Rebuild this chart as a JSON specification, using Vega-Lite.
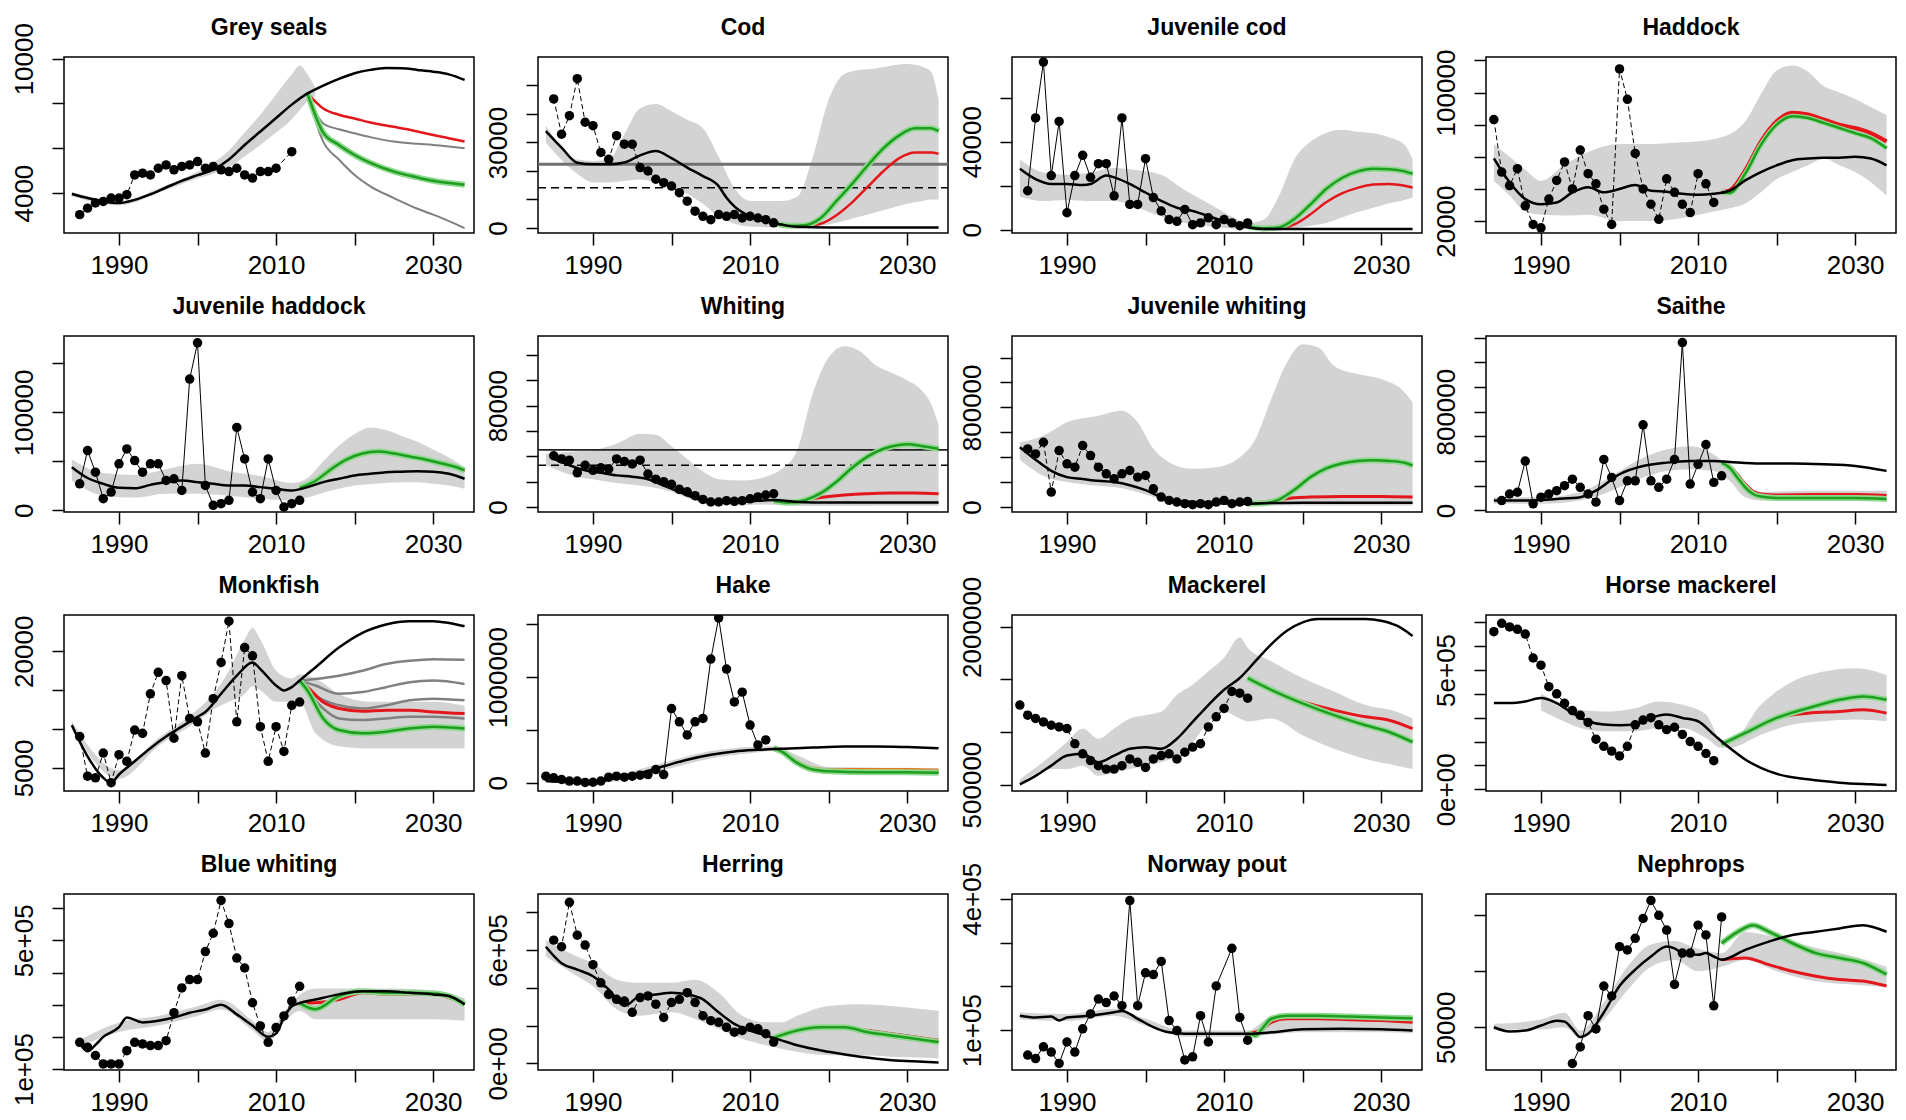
{
"$schema":"https://vega.github.io/schema/vega-lite/v6.json",
"background":"white",
"padding":{"left":10,"top":16,"right":2,"bottom":2},
"config":{
 "view":{"stroke":"black","strokeWidth":1.5},
 "axis":{"domain":false,"grid":false,"tickColor":"black","tickSize":12,"tickWidth":1.5,"labelFont":"Liberation Sans","labelFontSize":26,"labelColor":"black","labelOverlap":false,"labelFlush":false,"labelBound":false},
 "axisX":{"labelPadding":7},
 "axisY":{"labelAngle":-90,"labelAlign":"center","labelBaseline":"alphabetic","labelPadding":20},
 "title":{"font":"Liberation Sans","fontSize":23,"fontWeight":"bold","color":"black","anchor":"middle","offset":17,"baseline":"alphabetic"}
},
"data":{"values":[
{"p":"GS","k":"o","t":1985,"v":3040},{"p":"GS","k":"o","t":1986,"v":3330},{"p":"GS","k":"o","t":1987,"v":3560},{"p":"GS","k":"o","t":1988,"v":3630},{"p":"GS","k":"o","t":1989,"v":3780},{"p":"GS","k":"o","t":1990,"v":3780},{"p":"GS","k":"o","t":1991,"v":3930},{"p":"GS","k":"o","t":1992,"v":4810},{"p":"GS","k":"o","t":1993,"v":4890},{"p":"GS","k":"o","t":1994,"v":4810},{"p":"GS","k":"o","t":1995,"v":5110},{"p":"GS","k":"o","t":1996,"v":5260},{"p":"GS","k":"o","t":1997,"v":5040},{"p":"GS","k":"o","t":1998,"v":5190},{"p":"GS","k":"o","t":1999,"v":5260},{"p":"GS","k":"o","t":2000,"v":5410},{"p":"GS","k":"o","t":2001,"v":5110},{"p":"GS","k":"o","t":2002,"v":5190},{"p":"GS","k":"o","t":2003,"v":5040},{"p":"GS","k":"o","t":2004,"v":4960},{"p":"GS","k":"o","t":2005,"v":5110},{"p":"GS","k":"o","t":2006,"v":4810},{"p":"GS","k":"o","t":2007,"v":4670},{"p":"GS","k":"o","t":2008,"v":4960},{"p":"GS","k":"o","t":2009,"v":4960},{"p":"GS","k":"o","t":2010,"v":5110},{"p":"GS","k":"o","t":2012,"v":5850},
{"p":"GS","k":"m","t":1984,"v":3960},{"p":"GS","k":"m","t":1986,"v":3780},{"p":"GS","k":"m","t":1988,"v":3630},{"p":"GS","k":"m","t":1990,"v":3560},{"p":"GS","k":"m","t":1992,"v":3700},{"p":"GS","k":"m","t":1994,"v":3950},{"p":"GS","k":"m","t":1996,"v":4250},{"p":"GS","k":"m","t":1998,"v":4550},{"p":"GS","k":"m","t":2000,"v":4800},{"p":"GS","k":"m","t":2002,"v":5050},{"p":"GS","k":"m","t":2004,"v":5500},{"p":"GS","k":"m","t":2006,"v":6150},{"p":"GS","k":"m","t":2008,"v":6750},{"p":"GS","k":"m","t":2010,"v":7350},{"p":"GS","k":"m","t":2012,"v":7950},{"p":"GS","k":"m","t":2014,"v":8450},{"p":"GS","k":"m","t":2016,"v":8800},{"p":"GS","k":"m","t":2018,"v":9100},{"p":"GS","k":"m","t":2020,"v":9350},{"p":"GS","k":"m","t":2022,"v":9500},{"p":"GS","k":"m","t":2024,"v":9580},{"p":"GS","k":"m","t":2026,"v":9570},{"p":"GS","k":"m","t":2028,"v":9500},{"p":"GS","k":"m","t":2030,"v":9420},{"p":"GS","k":"m","t":2032,"v":9300},{"p":"GS","k":"m","t":2034,"v":9050},
{"p":"GS","k":"b","t":1984,"v":3860,"v2":4060},{"p":"GS","k":"b","t":1990,"v":3460,"v2":3660},{"p":"GS","k":"b","t":1996,"v":4150,"v2":4350},{"p":"GS","k":"b","t":2000,"v":4650,"v2":4950},{"p":"GS","k":"b","t":2002,"v":4850,"v2":5350},{"p":"GS","k":"b","t":2004,"v":5150,"v2":5900},{"p":"GS","k":"b","t":2006,"v":5650,"v2":6700},{"p":"GS","k":"b","t":2008,"v":6150,"v2":7500},{"p":"GS","k":"b","t":2010,"v":6700,"v2":8400},{"p":"GS","k":"b","t":2012,"v":7300,"v2":9300},{"p":"GS","k":"b","t":2013,"v":7700,"v2":9700},{"p":"GS","k":"b","t":2014,"v":8100,"v2":9300},{"p":"GS","k":"b","t":2015,"v":8300,"v2":8700},
{"p":"GS","k":"r","t":2014,"v":8450},{"p":"GS","k":"r","t":2016,"v":7780},{"p":"GS","k":"r","t":2018,"v":7500},{"p":"GS","k":"r","t":2020,"v":7330},{"p":"GS","k":"r","t":2022,"v":7150},{"p":"GS","k":"r","t":2025,"v":6960},{"p":"GS","k":"r","t":2028,"v":6750},{"p":"GS","k":"r","t":2030,"v":6590},{"p":"GS","k":"r","t":2032,"v":6450},{"p":"GS","k":"r","t":2034,"v":6300},
{"p":"GS","k":"q","s":1,"t":2014,"v":8450},{"p":"GS","k":"q","s":1,"t":2016,"v":7110},{"p":"GS","k":"q","s":1,"t":2018,"v":6850},{"p":"GS","k":"q","s":1,"t":2020,"v":6670},{"p":"GS","k":"q","s":1,"t":2022,"v":6500},{"p":"GS","k":"q","s":1,"t":2025,"v":6300},{"p":"GS","k":"q","s":1,"t":2028,"v":6200},{"p":"GS","k":"q","s":1,"t":2030,"v":6150},{"p":"GS","k":"q","s":1,"t":2032,"v":6080},{"p":"GS","k":"q","s":1,"t":2034,"v":6000},
{"p":"GS","k":"q","s":2,"t":2014,"v":8450},{"p":"GS","k":"q","s":2,"t":2016,"v":6300},{"p":"GS","k":"q","s":2,"t":2018,"v":5500},{"p":"GS","k":"q","s":2,"t":2020,"v":4810},{"p":"GS","k":"q","s":2,"t":2022,"v":4300},{"p":"GS","k":"q","s":2,"t":2025,"v":3780},{"p":"GS","k":"q","s":2,"t":2028,"v":3300},{"p":"GS","k":"q","s":2,"t":2030,"v":3040},{"p":"GS","k":"q","s":2,"t":2032,"v":2750},{"p":"GS","k":"q","s":2,"t":2034,"v":2440},
{"p":"GS","k":"g","t":2014,"v":8450},{"p":"GS","k":"g","t":2016,"v":6700},{"p":"GS","k":"g","t":2018,"v":6150},{"p":"GS","k":"g","t":2020,"v":5700},{"p":"GS","k":"g","t":2022,"v":5350},{"p":"GS","k":"g","t":2025,"v":4960},{"p":"GS","k":"g","t":2028,"v":4700},{"p":"GS","k":"g","t":2030,"v":4550},{"p":"GS","k":"g","t":2032,"v":4450},{"p":"GS","k":"g","t":2034,"v":4370},

{"p":"CO","k":"o","t":1985,"v":45300},{"p":"CO","k":"o","t":1986,"v":32900},{"p":"CO","k":"o","t":1987,"v":39400},{"p":"CO","k":"o","t":1988,"v":52400},{"p":"CO","k":"o","t":1989,"v":37100},{"p":"CO","k":"o","t":1990,"v":35900},{"p":"CO","k":"o","t":1991,"v":26500},{"p":"CO","k":"o","t":1992,"v":24100},{"p":"CO","k":"o","t":1993,"v":32400},{"p":"CO","k":"o","t":1994,"v":29400},{"p":"CO","k":"o","t":1995,"v":29400},{"p":"CO","k":"o","t":1996,"v":21200},{"p":"CO","k":"o","t":1997,"v":20000},{"p":"CO","k":"o","t":1998,"v":17100},{"p":"CO","k":"o","t":1999,"v":15900},{"p":"CO","k":"o","t":2000,"v":14700},{"p":"CO","k":"o","t":2001,"v":12400},{"p":"CO","k":"o","t":2002,"v":9400},{"p":"CO","k":"o","t":2003,"v":5900},{"p":"CO","k":"o","t":2004,"v":4100},{"p":"CO","k":"o","t":2005,"v":2900},{"p":"CO","k":"o","t":2006,"v":4700},{"p":"CO","k":"o","t":2007,"v":4100},{"p":"CO","k":"o","t":2008,"v":4700},{"p":"CO","k":"o","t":2009,"v":3500},{"p":"CO","k":"o","t":2010,"v":4100},{"p":"CO","k":"o","t":2011,"v":3500},{"p":"CO","k":"o","t":2012,"v":2900},{"p":"CO","k":"o","t":2013,"v":1800},
{"p":"CO","k":"m","t":1984,"v":34000},{"p":"CO","k":"m","t":1986,"v":28200},{"p":"CO","k":"m","t":1988,"v":22900},{"p":"CO","k":"m","t":1990,"v":22350},{"p":"CO","k":"m","t":1992,"v":22350},{"p":"CO","k":"m","t":1994,"v":23000},{"p":"CO","k":"m","t":1996,"v":25500},{"p":"CO","k":"m","t":1998,"v":27000},{"p":"CO","k":"m","t":2000,"v":24500},{"p":"CO","k":"m","t":2002,"v":21200},{"p":"CO","k":"m","t":2004,"v":18200},{"p":"CO","k":"m","t":2006,"v":14700},{"p":"CO","k":"m","t":2007,"v":10600},{"p":"CO","k":"m","t":2008,"v":7600},{"p":"CO","k":"m","t":2010,"v":4100},{"p":"CO","k":"m","t":2012,"v":2350},{"p":"CO","k":"m","t":2014,"v":1200},{"p":"CO","k":"m","t":2016,"v":400},{"p":"CO","k":"m","t":2020,"v":200},{"p":"CO","k":"m","t":2034,"v":200},
{"p":"CO","k":"b","t":1984,"v":30000,"v2":36000},{"p":"CO","k":"b","t":1988,"v":19000,"v2":24000},{"p":"CO","k":"b","t":1990,"v":16000,"v2":23500},{"p":"CO","k":"b","t":1992,"v":16000,"v2":24000},{"p":"CO","k":"b","t":1994,"v":16500,"v2":33000},{"p":"CO","k":"b","t":1996,"v":17000,"v2":42000},{"p":"CO","k":"b","t":1998,"v":16000,"v2":43500},{"p":"CO","k":"b","t":2000,"v":14500,"v2":41000},{"p":"CO","k":"b","t":2002,"v":12000,"v2":38000},{"p":"CO","k":"b","t":2004,"v":8500,"v2":35000},{"p":"CO","k":"b","t":2006,"v":4000,"v2":25000},{"p":"CO","k":"b","t":2008,"v":1500,"v2":14000},{"p":"CO","k":"b","t":2010,"v":500,"v2":9500},{"p":"CO","k":"b","t":2012,"v":300,"v2":9500},{"p":"CO","k":"b","t":2014,"v":300,"v2":9500},{"p":"CO","k":"b","t":2016,"v":400,"v2":11000},{"p":"CO","k":"b","t":2018,"v":600,"v2":25000},{"p":"CO","k":"b","t":2020,"v":1200,"v2":45000},{"p":"CO","k":"b","t":2022,"v":2500,"v2":54000},{"p":"CO","k":"b","t":2024,"v":4000,"v2":55500},{"p":"CO","k":"b","t":2026,"v":5500,"v2":56000},{"p":"CO","k":"b","t":2028,"v":7000,"v2":57000},{"p":"CO","k":"b","t":2030,"v":8500,"v2":57500},{"p":"CO","k":"b","t":2032,"v":9500,"v2":56500},{"p":"CO","k":"b","t":2033,"v":10000,"v2":55000},{"p":"CO","k":"b","t":2034,"v":10000,"v2":45000},
{"p":"CO","k":"g","t":2013,"v":1800},{"p":"CO","k":"g","t":2015,"v":800},{"p":"CO","k":"g","t":2017,"v":1000},{"p":"CO","k":"g","t":2019,"v":3500},{"p":"CO","k":"g","t":2021,"v":9500},{"p":"CO","k":"g","t":2023,"v":15500},{"p":"CO","k":"g","t":2025,"v":22000},{"p":"CO","k":"g","t":2027,"v":28000},{"p":"CO","k":"g","t":2029,"v":32500},{"p":"CO","k":"g","t":2031,"v":35000},{"p":"CO","k":"g","t":2033,"v":35000},{"p":"CO","k":"g","t":2034,"v":34000},
{"p":"CO","k":"r","t":2013,"v":1800},{"p":"CO","k":"r","t":2015,"v":700},{"p":"CO","k":"r","t":2017,"v":700},{"p":"CO","k":"r","t":2019,"v":1500},{"p":"CO","k":"r","t":2021,"v":4500},{"p":"CO","k":"r","t":2023,"v":9000},{"p":"CO","k":"r","t":2025,"v":14500},{"p":"CO","k":"r","t":2027,"v":20000},{"p":"CO","k":"r","t":2029,"v":24500},{"p":"CO","k":"r","t":2031,"v":26500},{"p":"CO","k":"r","t":2033,"v":26500},{"p":"CO","k":"r","t":2034,"v":26000},
{"p":"CO","k":"hs","t":1983,"v":22350},{"p":"CO","k":"hs","t":2035.2,"v":22350},{"p":"CO","k":"hd","t":1983,"v":14100},{"p":"CO","k":"hd","t":2035.2,"v":14100},

{"p":"JC","k":"o","t":1985,"v":17700},{"p":"JC","k":"o","t":1986,"v":50800},{"p":"JC","k":"o","t":1987,"v":76200},{"p":"JC","k":"o","t":1988,"v":24600},{"p":"JC","k":"o","t":1989,"v":49200},{"p":"JC","k":"o","t":1990,"v":7700},{"p":"JC","k":"o","t":1991,"v":24600},{"p":"JC","k":"o","t":1992,"v":33800},{"p":"JC","k":"o","t":1993,"v":23800},{"p":"JC","k":"o","t":1994,"v":30000},{"p":"JC","k":"o","t":1995,"v":30000},{"p":"JC","k":"o","t":1996,"v":15400},{"p":"JC","k":"o","t":1997,"v":50800},{"p":"JC","k":"o","t":1998,"v":11500},{"p":"JC","k":"o","t":1999,"v":11500},{"p":"JC","k":"o","t":2000,"v":32300},{"p":"JC","k":"o","t":2001,"v":14600},{"p":"JC","k":"o","t":2002,"v":8500},{"p":"JC","k":"o","t":2003,"v":4600},{"p":"JC","k":"o","t":2004,"v":3800},{"p":"JC","k":"o","t":2005,"v":9200},{"p":"JC","k":"o","t":2006,"v":2300},{"p":"JC","k":"o","t":2007,"v":3100},{"p":"JC","k":"o","t":2008,"v":5400},{"p":"JC","k":"o","t":2009,"v":2300},{"p":"JC","k":"o","t":2010,"v":4600},{"p":"JC","k":"o","t":2011,"v":3100},{"p":"JC","k":"o","t":2012,"v":1800},{"p":"JC","k":"o","t":2013,"v":3100},
{"p":"JC","k":"m","t":1984,"v":27700},{"p":"JC","k":"m","t":1986,"v":23000},{"p":"JC","k":"m","t":1988,"v":20800},{"p":"JC","k":"m","t":1990,"v":20800},{"p":"JC","k":"m","t":1992,"v":20300},{"p":"JC","k":"m","t":1993,"v":20800},{"p":"JC","k":"m","t":1995,"v":24600},{"p":"JC","k":"m","t":1996,"v":23800},{"p":"JC","k":"m","t":1998,"v":20800},{"p":"JC","k":"m","t":2000,"v":16900},{"p":"JC","k":"m","t":2002,"v":13100},{"p":"JC","k":"m","t":2004,"v":10000},{"p":"JC","k":"m","t":2006,"v":8500},{"p":"JC","k":"m","t":2008,"v":6200},{"p":"JC","k":"m","t":2010,"v":3800},{"p":"JC","k":"m","t":2012,"v":1800},{"p":"JC","k":"m","t":2014,"v":600},{"p":"JC","k":"m","t":2016,"v":300},{"p":"JC","k":"m","t":2034,"v":300},
{"p":"JC","k":"b","t":1984,"v":15000,"v2":32000},{"p":"JC","k":"b","t":1987,"v":13000,"v2":26000},{"p":"JC","k":"b","t":1990,"v":13500,"v2":25000},{"p":"JC","k":"b","t":1993,"v":13000,"v2":26000},{"p":"JC","k":"b","t":1996,"v":13000,"v2":28000},{"p":"JC","k":"b","t":1999,"v":10000,"v2":27000},{"p":"JC","k":"b","t":2002,"v":6000,"v2":25000},{"p":"JC","k":"b","t":2005,"v":3000,"v2":18000},{"p":"JC","k":"b","t":2008,"v":1500,"v2":12000},{"p":"JC","k":"b","t":2011,"v":600,"v2":6000},{"p":"JC","k":"b","t":2013,"v":300,"v2":3000},{"p":"JC","k":"b","t":2015,"v":200,"v2":4500},{"p":"JC","k":"b","t":2017,"v":300,"v2":15400},{"p":"JC","k":"b","t":2019,"v":800,"v2":32300},{"p":"JC","k":"b","t":2021,"v":1800,"v2":40000},{"p":"JC","k":"b","t":2023,"v":3000,"v2":44000},{"p":"JC","k":"b","t":2025,"v":5500,"v2":45400},{"p":"JC","k":"b","t":2027,"v":8000,"v2":44500},{"p":"JC","k":"b","t":2029,"v":10000,"v2":43800},{"p":"JC","k":"b","t":2031,"v":12000,"v2":42000},{"p":"JC","k":"b","t":2033,"v":13500,"v2":38500},{"p":"JC","k":"b","t":2034,"v":14600,"v2":32000},
{"p":"JC","k":"g","t":2013,"v":1500},{"p":"JC","k":"g","t":2015,"v":600},{"p":"JC","k":"g","t":2017,"v":1000},{"p":"JC","k":"g","t":2019,"v":5000},{"p":"JC","k":"g","t":2021,"v":11500},{"p":"JC","k":"g","t":2023,"v":18500},{"p":"JC","k":"g","t":2025,"v":23500},{"p":"JC","k":"g","t":2027,"v":26500},{"p":"JC","k":"g","t":2029,"v":27700},{"p":"JC","k":"g","t":2031,"v":27500},{"p":"JC","k":"g","t":2033,"v":26500},{"p":"JC","k":"g","t":2034,"v":25400},
{"p":"JC","k":"r","t":2013,"v":1500},{"p":"JC","k":"r","t":2015,"v":400},{"p":"JC","k":"r","t":2017,"v":600},{"p":"JC","k":"r","t":2019,"v":2500},{"p":"JC","k":"r","t":2021,"v":7000},{"p":"JC","k":"r","t":2023,"v":12500},{"p":"JC","k":"r","t":2025,"v":16500},{"p":"JC","k":"r","t":2027,"v":19000},{"p":"JC","k":"r","t":2029,"v":20500},{"p":"JC","k":"r","t":2031,"v":20800},{"p":"JC","k":"r","t":2033,"v":20000},{"p":"JC","k":"r","t":2034,"v":19200},

{"p":"HA","k":"o","t":1984,"v":83200},{"p":"HA","k":"o","t":1985,"v":50500},{"p":"HA","k":"o","t":1986,"v":42100},{"p":"HA","k":"o","t":1987,"v":52600},{"p":"HA","k":"o","t":1988,"v":29500},{"p":"HA","k":"o","t":1989,"v":17900},{"p":"HA","k":"o","t":1990,"v":15800},{"p":"HA","k":"o","t":1991,"v":33700},{"p":"HA","k":"o","t":1992,"v":45300},{"p":"HA","k":"o","t":1993,"v":56800},{"p":"HA","k":"o","t":1994,"v":40000},{"p":"HA","k":"o","t":1995,"v":64200},{"p":"HA","k":"o","t":1996,"v":49500},{"p":"HA","k":"o","t":1997,"v":43200},{"p":"HA","k":"o","t":1998,"v":27400},{"p":"HA","k":"o","t":1999,"v":17900},{"p":"HA","k":"o","t":2000,"v":114700},{"p":"HA","k":"o","t":2001,"v":95800},{"p":"HA","k":"o","t":2002,"v":62100},{"p":"HA","k":"o","t":2003,"v":40000},{"p":"HA","k":"o","t":2004,"v":30500},{"p":"HA","k":"o","t":2005,"v":21100},{"p":"HA","k":"o","t":2006,"v":46300},{"p":"HA","k":"o","t":2007,"v":37900},{"p":"HA","k":"o","t":2008,"v":30500},{"p":"HA","k":"o","t":2009,"v":25300},{"p":"HA","k":"o","t":2010,"v":49500},{"p":"HA","k":"o","t":2011,"v":43200},{"p":"HA","k":"o","t":2012,"v":31600},
{"p":"HA","k":"m","t":1984,"v":59000},{"p":"HA","k":"m","t":1986,"v":44200},{"p":"HA","k":"m","t":1988,"v":33700},{"p":"HA","k":"m","t":1990,"v":30500},{"p":"HA","k":"m","t":1992,"v":31600},{"p":"HA","k":"m","t":1994,"v":37900},{"p":"HA","k":"m","t":1996,"v":41100},{"p":"HA","k":"m","t":1998,"v":37900},{"p":"HA","k":"m","t":2000,"v":40000},{"p":"HA","k":"m","t":2002,"v":42500},{"p":"HA","k":"m","t":2004,"v":38900},{"p":"HA","k":"m","t":2006,"v":38300},{"p":"HA","k":"m","t":2008,"v":37000},{"p":"HA","k":"m","t":2010,"v":36400},{"p":"HA","k":"m","t":2012,"v":37000},{"p":"HA","k":"m","t":2014,"v":38900},{"p":"HA","k":"m","t":2016,"v":45300},{"p":"HA","k":"m","t":2018,"v":50500},{"p":"HA","k":"m","t":2020,"v":54700},{"p":"HA","k":"m","t":2022,"v":57900},{"p":"HA","k":"m","t":2024,"v":58900},{"p":"HA","k":"m","t":2026,"v":59400},{"p":"HA","k":"m","t":2028,"v":59400},{"p":"HA","k":"m","t":2030,"v":60000},{"p":"HA","k":"m","t":2032,"v":58900},{"p":"HA","k":"m","t":2034,"v":54700},
{"p":"HA","k":"b","t":1984,"v":45000,"v2":68000},{"p":"HA","k":"b","t":1986,"v":36000,"v2":60000},{"p":"HA","k":"b","t":1988,"v":26000,"v2":52000},{"p":"HA","k":"b","t":1990,"v":24000,"v2":45000},{"p":"HA","k":"b","t":1993,"v":23500,"v2":55000},{"p":"HA","k":"b","t":1996,"v":24000,"v2":63000},{"p":"HA","k":"b","t":2000,"v":20000,"v2":68000},{"p":"HA","k":"b","t":2004,"v":20000,"v2":68000},{"p":"HA","k":"b","t":2008,"v":22000,"v2":69000},{"p":"HA","k":"b","t":2012,"v":26000,"v2":71000},{"p":"HA","k":"b","t":2014,"v":28000,"v2":74000},{"p":"HA","k":"b","t":2016,"v":31000,"v2":82000},{"p":"HA","k":"b","t":2018,"v":38000,"v2":98900},{"p":"HA","k":"b","t":2020,"v":46000,"v2":113700},{"p":"HA","k":"b","t":2022,"v":50500,"v2":116800},{"p":"HA","k":"b","t":2024,"v":54700,"v2":113000},{"p":"HA","k":"b","t":2026,"v":58900,"v2":104000},{"p":"HA","k":"b","t":2028,"v":54700,"v2":100000},{"p":"HA","k":"b","t":2030,"v":50500,"v2":96000},{"p":"HA","k":"b","t":2032,"v":44200,"v2":91000},{"p":"HA","k":"b","t":2034,"v":35700,"v2":86000},
{"p":"HA","k":"r","t":2013,"v":38000},{"p":"HA","k":"r","t":2014,"v":39000},{"p":"HA","k":"r","t":2016,"v":51600},{"p":"HA","k":"r","t":2018,"v":69500},{"p":"HA","k":"r","t":2020,"v":82100},{"p":"HA","k":"r","t":2022,"v":87400},{"p":"HA","k":"r","t":2024,"v":86300},{"p":"HA","k":"r","t":2026,"v":83200},{"p":"HA","k":"r","t":2028,"v":80000},{"p":"HA","k":"r","t":2030,"v":77900},{"p":"HA","k":"r","t":2032,"v":74700},{"p":"HA","k":"r","t":2034,"v":69500},
{"p":"HA","k":"g","t":2013,"v":38000},{"p":"HA","k":"g","t":2014,"v":37500},{"p":"HA","k":"g","t":2016,"v":49500},{"p":"HA","k":"g","t":2018,"v":67400},{"p":"HA","k":"g","t":2020,"v":80000},{"p":"HA","k":"g","t":2022,"v":85300},{"p":"HA","k":"g","t":2024,"v":84200},{"p":"HA","k":"g","t":2026,"v":81100},{"p":"HA","k":"g","t":2028,"v":77900},{"p":"HA","k":"g","t":2030,"v":74700},{"p":"HA","k":"g","t":2032,"v":71600},{"p":"HA","k":"g","t":2034,"v":65300},

{"p":"JH","k":"o","t":1985,"v":27100},{"p":"JH","k":"o","t":1986,"v":61000},{"p":"JH","k":"o","t":1987,"v":39000},{"p":"JH","k":"o","t":1988,"v":11900},{"p":"JH","k":"o","t":1989,"v":18600},{"p":"JH","k":"o","t":1990,"v":47500},{"p":"JH","k":"o","t":1991,"v":62700},{"p":"JH","k":"o","t":1992,"v":50800},{"p":"JH","k":"o","t":1993,"v":39000},{"p":"JH","k":"o","t":1994,"v":47500},{"p":"JH","k":"o","t":1995,"v":47500},{"p":"JH","k":"o","t":1996,"v":30500},{"p":"JH","k":"o","t":1997,"v":32200},{"p":"JH","k":"o","t":1998,"v":20300},{"p":"JH","k":"o","t":1999,"v":134000},{"p":"JH","k":"o","t":2000,"v":171000},{"p":"JH","k":"o","t":2001,"v":25400},{"p":"JH","k":"o","t":2002,"v":5100},{"p":"JH","k":"o","t":2003,"v":6800},{"p":"JH","k":"o","t":2004,"v":10200},{"p":"JH","k":"o","t":2005,"v":84700},{"p":"JH","k":"o","t":2006,"v":52500},{"p":"JH","k":"o","t":2007,"v":18600},{"p":"JH","k":"o","t":2008,"v":11900},{"p":"JH","k":"o","t":2009,"v":52500},{"p":"JH","k":"o","t":2010,"v":20300},{"p":"JH","k":"o","t":2011,"v":3400},{"p":"JH","k":"o","t":2012,"v":6800},{"p":"JH","k":"o","t":2013,"v":10200},
{"p":"JH","k":"m","t":1984,"v":44100},{"p":"JH","k":"m","t":1986,"v":33000},{"p":"JH","k":"m","t":1988,"v":27000},{"p":"JH","k":"m","t":1990,"v":23000},{"p":"JH","k":"m","t":1992,"v":22500},{"p":"JH","k":"m","t":1994,"v":26000},{"p":"JH","k":"m","t":1996,"v":29000},{"p":"JH","k":"m","t":1998,"v":30500},{"p":"JH","k":"m","t":2000,"v":28800},{"p":"JH","k":"m","t":2002,"v":27100},{"p":"JH","k":"m","t":2004,"v":25400},{"p":"JH","k":"m","t":2006,"v":25400},{"p":"JH","k":"m","t":2008,"v":23700},{"p":"JH","k":"m","t":2010,"v":22000},{"p":"JH","k":"m","t":2012,"v":20300},{"p":"JH","k":"m","t":2014,"v":23700},{"p":"JH","k":"m","t":2016,"v":28800},{"p":"JH","k":"m","t":2018,"v":32200},{"p":"JH","k":"m","t":2020,"v":35600},{"p":"JH","k":"m","t":2022,"v":37300},{"p":"JH","k":"m","t":2024,"v":39000},{"p":"JH","k":"m","t":2026,"v":39500},{"p":"JH","k":"m","t":2028,"v":40000},{"p":"JH","k":"m","t":2030,"v":39500},{"p":"JH","k":"m","t":2032,"v":37300},{"p":"JH","k":"m","t":2034,"v":32200},
{"p":"JH","k":"b","t":1984,"v":30000,"v2":52000},{"p":"JH","k":"b","t":1988,"v":15000,"v2":38000},{"p":"JH","k":"b","t":1992,"v":13000,"v2":36000},{"p":"JH","k":"b","t":1996,"v":17000,"v2":42000},{"p":"JH","k":"b","t":2000,"v":17000,"v2":47500},{"p":"JH","k":"b","t":2004,"v":15000,"v2":40000},{"p":"JH","k":"b","t":2008,"v":12000,"v2":35000},{"p":"JH","k":"b","t":2012,"v":10000,"v2":28000},{"p":"JH","k":"b","t":2014,"v":13000,"v2":33000},{"p":"JH","k":"b","t":2016,"v":18000,"v2":50000},{"p":"JH","k":"b","t":2018,"v":22000,"v2":66000},{"p":"JH","k":"b","t":2020,"v":25400,"v2":78000},{"p":"JH","k":"b","t":2022,"v":27000,"v2":84700},{"p":"JH","k":"b","t":2024,"v":28000,"v2":82000},{"p":"JH","k":"b","t":2026,"v":28800,"v2":76000},{"p":"JH","k":"b","t":2028,"v":28800,"v2":70000},{"p":"JH","k":"b","t":2030,"v":27100,"v2":62000},{"p":"JH","k":"b","t":2032,"v":25400,"v2":54000},{"p":"JH","k":"b","t":2034,"v":22000,"v2":44100},
{"p":"JH","k":"r","t":2013,"v":23000},{"p":"JH","k":"r","t":2015,"v":29500},{"p":"JH","k":"r","t":2017,"v":41000},{"p":"JH","k":"r","t":2019,"v":51000},{"p":"JH","k":"r","t":2021,"v":57000},{"p":"JH","k":"r","t":2023,"v":59000},{"p":"JH","k":"r","t":2025,"v":57000},{"p":"JH","k":"r","t":2027,"v":54000},{"p":"JH","k":"r","t":2029,"v":51000},{"p":"JH","k":"r","t":2031,"v":47000},{"p":"JH","k":"r","t":2033,"v":43000},{"p":"JH","k":"r","t":2034,"v":40000},
{"p":"JH","k":"g","t":2013,"v":23000},{"p":"JH","k":"g","t":2015,"v":30000},{"p":"JH","k":"g","t":2017,"v":42000},{"p":"JH","k":"g","t":2019,"v":52000},{"p":"JH","k":"g","t":2021,"v":58000},{"p":"JH","k":"g","t":2023,"v":60000},{"p":"JH","k":"g","t":2025,"v":58000},{"p":"JH","k":"g","t":2027,"v":55000},{"p":"JH","k":"g","t":2029,"v":52000},{"p":"JH","k":"g","t":2031,"v":48000},{"p":"JH","k":"g","t":2033,"v":44000},{"p":"JH","k":"g","t":2034,"v":40700},

{"p":"WH","k":"o","t":1985,"v":40500},{"p":"WH","k":"o","t":1986,"v":38000},{"p":"WH","k":"o","t":1987,"v":37000},{"p":"WH","k":"o","t":1988,"v":27000},{"p":"WH","k":"o","t":1989,"v":33000},{"p":"WH","k":"o","t":1990,"v":29000},{"p":"WH","k":"o","t":1991,"v":31000},{"p":"WH","k":"o","t":1992,"v":30000},{"p":"WH","k":"o","t":1993,"v":38000},{"p":"WH","k":"o","t":1994,"v":36000},{"p":"WH","k":"o","t":1995,"v":34000},{"p":"WH","k":"o","t":1996,"v":37000},{"p":"WH","k":"o","t":1997,"v":26000},{"p":"WH","k":"o","t":1998,"v":22000},{"p":"WH","k":"o","t":1999,"v":20000},{"p":"WH","k":"o","t":2000,"v":18000},{"p":"WH","k":"o","t":2001,"v":14000},{"p":"WH","k":"o","t":2002,"v":12000},{"p":"WH","k":"o","t":2003,"v":9000},{"p":"WH","k":"o","t":2004,"v":6000},{"p":"WH","k":"o","t":2005,"v":4000},{"p":"WH","k":"o","t":2006,"v":4000},{"p":"WH","k":"o","t":2007,"v":5000},{"p":"WH","k":"o","t":2008,"v":4500},{"p":"WH","k":"o","t":2009,"v":5000},{"p":"WH","k":"o","t":2010,"v":6500},{"p":"WH","k":"o","t":2011,"v":8000},{"p":"WH","k":"o","t":2012,"v":9500},{"p":"WH","k":"o","t":2013,"v":10500},
{"p":"WH","k":"m","t":1985,"v":38000},{"p":"WH","k":"m","t":1987,"v":33000},{"p":"WH","k":"m","t":1989,"v":29000},{"p":"WH","k":"m","t":1991,"v":27000},{"p":"WH","k":"m","t":1993,"v":25000},{"p":"WH","k":"m","t":1995,"v":24000},{"p":"WH","k":"m","t":1997,"v":22000},{"p":"WH","k":"m","t":1999,"v":17000},{"p":"WH","k":"m","t":2001,"v":12000},{"p":"WH","k":"m","t":2003,"v":7000},{"p":"WH","k":"m","t":2005,"v":4000},{"p":"WH","k":"m","t":2007,"v":3500},{"p":"WH","k":"m","t":2009,"v":4000},{"p":"WH","k":"m","t":2011,"v":5000},{"p":"WH","k":"m","t":2013,"v":5500},{"p":"WH","k":"m","t":2016,"v":4000},{"p":"WH","k":"m","t":2020,"v":3500},{"p":"WH","k":"m","t":2034,"v":3500},
{"p":"WH","k":"b","t":1984,"v":33000,"v2":42000},{"p":"WH","k":"b","t":1988,"v":24000,"v2":44000},{"p":"WH","k":"b","t":1990,"v":22000,"v2":45000},{"p":"WH","k":"b","t":1993,"v":19000,"v2":50000},{"p":"WH","k":"b","t":1996,"v":17000,"v2":57900},{"p":"WH","k":"b","t":1998,"v":15000,"v2":57000},{"p":"WH","k":"b","t":2000,"v":12000,"v2":48000},{"p":"WH","k":"b","t":2002,"v":7000,"v2":38000},{"p":"WH","k":"b","t":2004,"v":3000,"v2":28000},{"p":"WH","k":"b","t":2006,"v":1500,"v2":22000},{"p":"WH","k":"b","t":2009,"v":1500,"v2":21000},{"p":"WH","k":"b","t":2012,"v":2000,"v2":24000},{"p":"WH","k":"b","t":2014,"v":1500,"v2":30000},{"p":"WH","k":"b","t":2016,"v":800,"v2":45000},{"p":"WH","k":"b","t":2018,"v":800,"v2":90000},{"p":"WH","k":"b","t":2020,"v":800,"v2":118000},{"p":"WH","k":"b","t":2022,"v":800,"v2":127000},{"p":"WH","k":"b","t":2024,"v":800,"v2":123000},{"p":"WH","k":"b","t":2026,"v":1000,"v2":112000},{"p":"WH","k":"b","t":2028,"v":1000,"v2":106000},{"p":"WH","k":"b","t":2030,"v":1000,"v2":100000},{"p":"WH","k":"b","t":2032,"v":1000,"v2":91000},{"p":"WH","k":"b","t":2033,"v":1000,"v2":82000},{"p":"WH","k":"b","t":2034,"v":1000,"v2":65000},
{"p":"WH","k":"g","t":2013,"v":5000},{"p":"WH","k":"g","t":2015,"v":3500},{"p":"WH","k":"g","t":2017,"v":5500},{"p":"WH","k":"g","t":2019,"v":11000},{"p":"WH","k":"g","t":2021,"v":20000},{"p":"WH","k":"g","t":2023,"v":31000},{"p":"WH","k":"g","t":2025,"v":40000},{"p":"WH","k":"g","t":2027,"v":46000},{"p":"WH","k":"g","t":2029,"v":49000},{"p":"WH","k":"g","t":2030,"v":49500},{"p":"WH","k":"g","t":2032,"v":48000},{"p":"WH","k":"g","t":2034,"v":46000},
{"p":"WH","k":"r","t":2013,"v":5000},{"p":"WH","k":"r","t":2015,"v":4000},{"p":"WH","k":"r","t":2017,"v":5500},{"p":"WH","k":"r","t":2019,"v":7500},{"p":"WH","k":"r","t":2021,"v":9000},{"p":"WH","k":"r","t":2023,"v":10000},{"p":"WH","k":"r","t":2025,"v":10500},{"p":"WH","k":"r","t":2028,"v":11000},{"p":"WH","k":"r","t":2031,"v":11000},{"p":"WH","k":"r","t":2034,"v":10500},
{"p":"WH","k":"hs","t":1983,"v":45100},{"p":"WH","k":"hs","t":2035.2,"v":45100},{"p":"WH","k":"hd","t":1983,"v":32900},{"p":"WH","k":"hd","t":2035.2,"v":32900},

{"p":"JW","k":"o","t":1985,"v":466700},{"p":"JW","k":"o","t":1986,"v":426700},{"p":"JW","k":"o","t":1987,"v":520000},{"p":"JW","k":"o","t":1988,"v":120000},{"p":"JW","k":"o","t":1989,"v":453300},{"p":"JW","k":"o","t":1990,"v":346700},{"p":"JW","k":"o","t":1991,"v":320000},{"p":"JW","k":"o","t":1992,"v":493300},{"p":"JW","k":"o","t":1993,"v":413300},{"p":"JW","k":"o","t":1994,"v":320000},{"p":"JW","k":"o","t":1995,"v":266700},{"p":"JW","k":"o","t":1996,"v":226700},{"p":"JW","k":"o","t":1997,"v":266700},{"p":"JW","k":"o","t":1998,"v":293300},{"p":"JW","k":"o","t":1999,"v":240000},{"p":"JW","k":"o","t":2000,"v":253300},{"p":"JW","k":"o","t":2001,"v":146700},{"p":"JW","k":"o","t":2002,"v":80000},{"p":"JW","k":"o","t":2003,"v":53300},{"p":"JW","k":"o","t":2004,"v":40000},{"p":"JW","k":"o","t":2005,"v":26700},{"p":"JW","k":"o","t":2006,"v":18700},{"p":"JW","k":"o","t":2007,"v":26700},{"p":"JW","k":"o","t":2008,"v":18700},{"p":"JW","k":"o","t":2009,"v":40000},{"p":"JW","k":"o","t":2010,"v":53300},{"p":"JW","k":"o","t":2011,"v":26700},{"p":"JW","k":"o","t":2012,"v":40000},{"p":"JW","k":"o","t":2013,"v":45000},
{"p":"JW","k":"m","t":1984,"v":480000},{"p":"JW","k":"m","t":1986,"v":380000},{"p":"JW","k":"m","t":1988,"v":290000},{"p":"JW","k":"m","t":1990,"v":240000},{"p":"JW","k":"m","t":1992,"v":225000},{"p":"JW","k":"m","t":1994,"v":210000},{"p":"JW","k":"m","t":1996,"v":200000},{"p":"JW","k":"m","t":1998,"v":175000},{"p":"JW","k":"m","t":2000,"v":135000},{"p":"JW","k":"m","t":2002,"v":80000},{"p":"JW","k":"m","t":2004,"v":50000},{"p":"JW","k":"m","t":2006,"v":40000},{"p":"JW","k":"m","t":2008,"v":35000},{"p":"JW","k":"m","t":2010,"v":28000},{"p":"JW","k":"m","t":2013,"v":27000},{"p":"JW","k":"m","t":2016,"v":32000},{"p":"JW","k":"m","t":2020,"v":35000},{"p":"JW","k":"m","t":2034,"v":35000},
{"p":"JW","k":"b","t":1984,"v":380000,"v2":520000},{"p":"JW","k":"b","t":1987,"v":250000,"v2":573000},{"p":"JW","k":"b","t":1990,"v":200000,"v2":680000},{"p":"JW","k":"b","t":1994,"v":170000,"v2":733000},{"p":"JW","k":"b","t":1997,"v":150000,"v2":773000},{"p":"JW","k":"b","t":1999,"v":120000,"v2":680000},{"p":"JW","k":"b","t":2001,"v":80000,"v2":467000},{"p":"JW","k":"b","t":2003,"v":40000,"v2":360000},{"p":"JW","k":"b","t":2006,"v":25000,"v2":307000},{"p":"JW","k":"b","t":2009,"v":20000,"v2":320000},{"p":"JW","k":"b","t":2012,"v":15000,"v2":400000},{"p":"JW","k":"b","t":2014,"v":13000,"v2":547000},{"p":"JW","k":"b","t":2016,"v":13000,"v2":867000},{"p":"JW","k":"b","t":2018,"v":13000,"v2":1160000},{"p":"JW","k":"b","t":2020,"v":13000,"v2":1307000},{"p":"JW","k":"b","t":2022,"v":13000,"v2":1280000},{"p":"JW","k":"b","t":2024,"v":13000,"v2":1133000},{"p":"JW","k":"b","t":2027,"v":13000,"v2":1067000},{"p":"JW","k":"b","t":2030,"v":13000,"v2":1027000},{"p":"JW","k":"b","t":2033,"v":13000,"v2":920000},{"p":"JW","k":"b","t":2034,"v":13000,"v2":840000},
{"p":"JW","k":"g","t":2013,"v":27000},{"p":"JW","k":"g","t":2015,"v":30000},{"p":"JW","k":"g","t":2017,"v":60000},{"p":"JW","k":"g","t":2019,"v":140000},{"p":"JW","k":"g","t":2021,"v":240000},{"p":"JW","k":"g","t":2023,"v":310000},{"p":"JW","k":"g","t":2025,"v":350000},{"p":"JW","k":"g","t":2027,"v":370000},{"p":"JW","k":"g","t":2029,"v":375000},{"p":"JW","k":"g","t":2031,"v":370000},{"p":"JW","k":"g","t":2033,"v":355000},{"p":"JW","k":"g","t":2034,"v":333000},
{"p":"JW","k":"r","t":2013,"v":27000},{"p":"JW","k":"r","t":2015,"v":40000},{"p":"JW","k":"r","t":2017,"v":60000},{"p":"JW","k":"r","t":2019,"v":75000},{"p":"JW","k":"r","t":2021,"v":80000},{"p":"JW","k":"r","t":2025,"v":85000},{"p":"JW","k":"r","t":2030,"v":85000},{"p":"JW","k":"r","t":2034,"v":80000},

{"p":"SA","k":"o","t":1985,"v":80000},{"p":"SA","k":"o","t":1986,"v":133000},{"p":"SA","k":"o","t":1987,"v":147000},{"p":"SA","k":"o","t":1988,"v":400000},{"p":"SA","k":"o","t":1989,"v":53000},{"p":"SA","k":"o","t":1990,"v":107000},{"p":"SA","k":"o","t":1991,"v":133000},{"p":"SA","k":"o","t":1992,"v":160000},{"p":"SA","k":"o","t":1993,"v":200000},{"p":"SA","k":"o","t":1994,"v":253000},{"p":"SA","k":"o","t":1995,"v":187000},{"p":"SA","k":"o","t":1996,"v":133000},{"p":"SA","k":"o","t":1997,"v":67000},{"p":"SA","k":"o","t":1998,"v":413000},{"p":"SA","k":"o","t":1999,"v":267000},{"p":"SA","k":"o","t":2000,"v":80000},{"p":"SA","k":"o","t":2001,"v":240000},{"p":"SA","k":"o","t":2002,"v":240000},{"p":"SA","k":"o","t":2003,"v":693000},{"p":"SA","k":"o","t":2004,"v":240000},{"p":"SA","k":"o","t":2005,"v":187000},{"p":"SA","k":"o","t":2006,"v":253000},{"p":"SA","k":"o","t":2007,"v":413000},{"p":"SA","k":"o","t":2008,"v":1360000},{"p":"SA","k":"o","t":2009,"v":213000},{"p":"SA","k":"o","t":2010,"v":373000},{"p":"SA","k":"o","t":2011,"v":533000},{"p":"SA","k":"o","t":2012,"v":227000},{"p":"SA","k":"o","t":2013,"v":280000},
{"p":"SA","k":"m","t":1984,"v":80000},{"p":"SA","k":"m","t":1988,"v":80000},{"p":"SA","k":"m","t":1992,"v":93000},{"p":"SA","k":"m","t":1995,"v":107000},{"p":"SA","k":"m","t":1997,"v":160000},{"p":"SA","k":"m","t":2000,"v":293000},{"p":"SA","k":"m","t":2003,"v":360000},{"p":"SA","k":"m","t":2006,"v":387000},{"p":"SA","k":"m","t":2009,"v":400000},{"p":"SA","k":"m","t":2012,"v":400000},{"p":"SA","k":"m","t":2014,"v":392000},{"p":"SA","k":"m","t":2018,"v":379000},{"p":"SA","k":"m","t":2022,"v":379000},{"p":"SA","k":"m","t":2026,"v":373000},{"p":"SA","k":"m","t":2030,"v":360000},{"p":"SA","k":"m","t":2034,"v":320000},
{"p":"SA","k":"b","t":1984,"v":53000,"v2":107000},{"p":"SA","k":"b","t":1990,"v":53000,"v2":107000},{"p":"SA","k":"b","t":1995,"v":80000,"v2":150000},{"p":"SA","k":"b","t":1998,"v":133000,"v2":240000},{"p":"SA","k":"b","t":2000,"v":187000,"v2":320000},{"p":"SA","k":"b","t":2003,"v":267000,"v2":427000},{"p":"SA","k":"b","t":2006,"v":320000,"v2":493000},{"p":"SA","k":"b","t":2009,"v":333000,"v2":520000},{"p":"SA","k":"b","t":2012,"v":320000,"v2":453000},{"p":"SA","k":"b","t":2014,"v":240000,"v2":347000},{"p":"SA","k":"b","t":2016,"v":107000,"v2":187000},{"p":"SA","k":"b","t":2018,"v":80000,"v2":150000},{"p":"SA","k":"b","t":2025,"v":80000,"v2":160000},{"p":"SA","k":"b","t":2034,"v":80000,"v2":160000},
{"p":"SA","k":"r","t":2013,"v":387000},{"p":"SA","k":"r","t":2014,"v":360000},{"p":"SA","k":"r","t":2015,"v":293000},{"p":"SA","k":"r","t":2016,"v":213000},{"p":"SA","k":"r","t":2017,"v":155000},{"p":"SA","k":"r","t":2018,"v":133000},{"p":"SA","k":"r","t":2020,"v":125000},{"p":"SA","k":"r","t":2025,"v":128000},{"p":"SA","k":"r","t":2030,"v":128000},{"p":"SA","k":"r","t":2034,"v":120000},
{"p":"SA","k":"g","t":2013,"v":387000},{"p":"SA","k":"g","t":2014,"v":347000},{"p":"SA","k":"g","t":2015,"v":267000},{"p":"SA","k":"g","t":2016,"v":187000},{"p":"SA","k":"g","t":2017,"v":133000},{"p":"SA","k":"g","t":2018,"v":112000},{"p":"SA","k":"g","t":2020,"v":101000},{"p":"SA","k":"g","t":2025,"v":101000},{"p":"SA","k":"g","t":2030,"v":101000},{"p":"SA","k":"g","t":2034,"v":93000},

{"p":"MO","k":"o","t":1985,"v":9030},{"p":"MO","k":"o","t":1986,"v":3940},{"p":"MO","k":"o","t":1987,"v":3730},{"p":"MO","k":"o","t":1988,"v":6910},{"p":"MO","k":"o","t":1989,"v":3100},{"p":"MO","k":"o","t":1990,"v":6700},{"p":"MO","k":"o","t":1991,"v":5850},{"p":"MO","k":"o","t":1992,"v":9870},{"p":"MO","k":"o","t":1993,"v":9450},{"p":"MO","k":"o","t":1994,"v":14530},{"p":"MO","k":"o","t":1995,"v":17290},{"p":"MO","k":"o","t":1996,"v":16230},{"p":"MO","k":"o","t":1997,"v":8810},{"p":"MO","k":"o","t":1998,"v":16860},{"p":"MO","k":"o","t":1999,"v":11360},{"p":"MO","k":"o","t":2000,"v":10930},{"p":"MO","k":"o","t":2001,"v":6910},{"p":"MO","k":"o","t":2002,"v":13900},{"p":"MO","k":"o","t":2003,"v":18560},{"p":"MO","k":"o","t":2004,"v":23860},{"p":"MO","k":"o","t":2005,"v":10930},{"p":"MO","k":"o","t":2006,"v":20470},{"p":"MO","k":"o","t":2007,"v":19410},{"p":"MO","k":"o","t":2008,"v":10300},{"p":"MO","k":"o","t":2009,"v":5850},{"p":"MO","k":"o","t":2010,"v":10300},{"p":"MO","k":"o","t":2011,"v":7120},{"p":"MO","k":"o","t":2012,"v":13050},{"p":"MO","k":"o","t":2013,"v":13470},
{"p":"MO","k":"m","t":1984,"v":10500},{"p":"MO","k":"m","t":1986,"v":6480},{"p":"MO","k":"m","t":1988,"v":3730},{"p":"MO","k":"m","t":1989,"v":3100},{"p":"MO","k":"m","t":1990,"v":4150},{"p":"MO","k":"m","t":1992,"v":5850},{"p":"MO","k":"m","t":1994,"v":7540},{"p":"MO","k":"m","t":1996,"v":9030},{"p":"MO","k":"m","t":1998,"v":10300},{"p":"MO","k":"m","t":2000,"v":11570},{"p":"MO","k":"m","t":2001,"v":12200},{"p":"MO","k":"m","t":2003,"v":14530},{"p":"MO","k":"m","t":2005,"v":16860},{"p":"MO","k":"m","t":2007,"v":18560},{"p":"MO","k":"m","t":2008,"v":17710},{"p":"MO","k":"m","t":2010,"v":15590},{"p":"MO","k":"m","t":2011,"v":14960},{"p":"MO","k":"m","t":2012,"v":15380},{"p":"MO","k":"m","t":2013,"v":16230},{"p":"MO","k":"m","t":2015,"v":17920},{"p":"MO","k":"m","t":2018,"v":20470},{"p":"MO","k":"m","t":2021,"v":22370},{"p":"MO","k":"m","t":2024,"v":23440},{"p":"MO","k":"m","t":2027,"v":23860},{"p":"MO","k":"m","t":2030,"v":23860},{"p":"MO","k":"m","t":2032,"v":23640},{"p":"MO","k":"m","t":2034,"v":23220},
{"p":"MO","k":"b","t":1984,"v":10000,"v2":11000},{"p":"MO","k":"b","t":1990,"v":3600,"v2":4700},{"p":"MO","k":"b","t":1995,"v":7800,"v2":8800},{"p":"MO","k":"b","t":2000,"v":11000,"v2":12500},{"p":"MO","k":"b","t":2002,"v":12500,"v2":14500},{"p":"MO","k":"b","t":2004,"v":13500,"v2":17500},{"p":"MO","k":"b","t":2006,"v":14500,"v2":21500},{"p":"MO","k":"b","t":2007,"v":15500,"v2":23000},{"p":"MO","k":"b","t":2008,"v":15000,"v2":21500},{"p":"MO","k":"b","t":2010,"v":13500,"v2":17500},{"p":"MO","k":"b","t":2012,"v":13500,"v2":16500},{"p":"MO","k":"b","t":2013,"v":13500,"v2":17000},{"p":"MO","k":"b","t":2015,"v":9500,"v2":16500},{"p":"MO","k":"b","t":2018,"v":7800,"v2":14500},{"p":"MO","k":"b","t":2022,"v":7500,"v2":13500},{"p":"MO","k":"b","t":2026,"v":7500,"v2":13500},{"p":"MO","k":"b","t":2030,"v":7500,"v2":13500},{"p":"MO","k":"b","t":2034,"v":7500,"v2":13000},
{"p":"MO","k":"q","s":1,"t":2013,"v":16230},{"p":"MO","k":"q","s":1,"t":2015,"v":16440},{"p":"MO","k":"q","s":1,"t":2018,"v":16860},{"p":"MO","k":"q","s":1,"t":2021,"v":17500},{"p":"MO","k":"q","s":1,"t":2024,"v":18350},{"p":"MO","k":"q","s":1,"t":2027,"v":18770},{"p":"MO","k":"q","s":1,"t":2030,"v":18980},{"p":"MO","k":"q","s":1,"t":2034,"v":18900},
{"p":"MO","k":"q","s":2,"t":2013,"v":16230},{"p":"MO","k":"q","s":2,"t":2015,"v":15600},{"p":"MO","k":"q","s":2,"t":2018,"v":14530},{"p":"MO","k":"q","s":2,"t":2021,"v":14750},{"p":"MO","k":"q","s":2,"t":2024,"v":15380},{"p":"MO","k":"q","s":2,"t":2027,"v":16020},{"p":"MO","k":"q","s":2,"t":2030,"v":16230},{"p":"MO","k":"q","s":2,"t":2034,"v":15800},
{"p":"MO","k":"q","s":3,"t":2013,"v":16230},{"p":"MO","k":"q","s":3,"t":2015,"v":14320},{"p":"MO","k":"q","s":3,"t":2018,"v":13050},{"p":"MO","k":"q","s":3,"t":2021,"v":12630},{"p":"MO","k":"q","s":3,"t":2024,"v":13050},{"p":"MO","k":"q","s":3,"t":2027,"v":13690},{"p":"MO","k":"q","s":3,"t":2030,"v":13900},{"p":"MO","k":"q","s":3,"t":2034,"v":13690},
{"p":"MO","k":"q","s":4,"t":2013,"v":16230},{"p":"MO","k":"q","s":4,"t":2016,"v":12630},{"p":"MO","k":"q","s":4,"t":2018,"v":11360},{"p":"MO","k":"q","s":4,"t":2021,"v":11150},{"p":"MO","k":"q","s":4,"t":2024,"v":11360},{"p":"MO","k":"q","s":4,"t":2027,"v":11570},{"p":"MO","k":"q","s":4,"t":2030,"v":11570},{"p":"MO","k":"q","s":4,"t":2034,"v":11360},
{"p":"MO","k":"r","t":2013,"v":16230},{"p":"MO","k":"r","t":2014,"v":15380},{"p":"MO","k":"r","t":2016,"v":13470},{"p":"MO","k":"r","t":2018,"v":12630},{"p":"MO","k":"r","t":2021,"v":12290},{"p":"MO","k":"r","t":2024,"v":12420},{"p":"MO","k":"r","t":2027,"v":12420},{"p":"MO","k":"r","t":2030,"v":12200},{"p":"MO","k":"r","t":2034,"v":11990},
{"p":"MO","k":"g","t":2013,"v":16230},{"p":"MO","k":"g","t":2014,"v":14960},{"p":"MO","k":"g","t":2016,"v":11360},{"p":"MO","k":"g","t":2018,"v":9870},{"p":"MO","k":"g","t":2021,"v":9450},{"p":"MO","k":"g","t":2024,"v":9660},{"p":"MO","k":"g","t":2027,"v":10080},{"p":"MO","k":"g","t":2030,"v":10300},{"p":"MO","k":"g","t":2034,"v":10080},

{"p":"HK","k":"o","t":1984,"v":62500},{"p":"HK","k":"o","t":1985,"v":47000},{"p":"HK","k":"o","t":1986,"v":31000},{"p":"HK","k":"o","t":1987,"v":16000},{"p":"HK","k":"o","t":1988,"v":16000},{"p":"HK","k":"o","t":1989,"v":3000},{"p":"HK","k":"o","t":1990,"v":5000},{"p":"HK","k":"o","t":1991,"v":16000},{"p":"HK","k":"o","t":1992,"v":53000},{"p":"HK","k":"o","t":1993,"v":62500},{"p":"HK","k":"o","t":1994,"v":53000},{"p":"HK","k":"o","t":1995,"v":62500},{"p":"HK","k":"o","t":1996,"v":72000},{"p":"HK","k":"o","t":1997,"v":78000},{"p":"HK","k":"o","t":1998,"v":125000},{"p":"HK","k":"o","t":1999,"v":78000},{"p":"HK","k":"o","t":2000,"v":703000},{"p":"HK","k":"o","t":2001,"v":578000},{"p":"HK","k":"o","t":2002,"v":453000},{"p":"HK","k":"o","t":2003,"v":578000},{"p":"HK","k":"o","t":2004,"v":610000},{"p":"HK","k":"o","t":2005,"v":1172000},{"p":"HK","k":"o","t":2006,"v":1562000},{"p":"HK","k":"o","t":2007,"v":1078000},{"p":"HK","k":"o","t":2008,"v":766000},{"p":"HK","k":"o","t":2009,"v":859000},{"p":"HK","k":"o","t":2010,"v":547000},{"p":"HK","k":"o","t":2011,"v":359000},{"p":"HK","k":"o","t":2012,"v":406000},
{"p":"HK","k":"m","t":1984,"v":16000},{"p":"HK","k":"m","t":1987,"v":5000},{"p":"HK","k":"m","t":1990,"v":3000},{"p":"HK","k":"m","t":1993,"v":47000},{"p":"HK","k":"m","t":1996,"v":94000},{"p":"HK","k":"m","t":1999,"v":156000},{"p":"HK","k":"m","t":2002,"v":219000},{"p":"HK","k":"m","t":2005,"v":266000},{"p":"HK","k":"m","t":2008,"v":297000},{"p":"HK","k":"m","t":2011,"v":312000},{"p":"HK","k":"m","t":2014,"v":322000},{"p":"HK","k":"m","t":2018,"v":334000},{"p":"HK","k":"m","t":2022,"v":344000},{"p":"HK","k":"m","t":2026,"v":344000},{"p":"HK","k":"m","t":2030,"v":338000},{"p":"HK","k":"m","t":2034,"v":328000},
{"p":"HK","k":"b","t":1984,"v":0,"v2":30000},{"p":"HK","k":"b","t":1990,"v":-10000,"v2":15000},{"p":"HK","k":"b","t":1995,"v":50000,"v2":110000},{"p":"HK","k":"b","t":2000,"v":140000,"v2":210000},{"p":"HK","k":"b","t":2005,"v":230000,"v2":300000},{"p":"HK","k":"b","t":2010,"v":280000,"v2":340000},{"p":"HK","k":"b","t":2013,"v":300000,"v2":345000},{"p":"HK","k":"b","t":2016,"v":170000,"v2":260000},{"p":"HK","k":"b","t":2020,"v":100000,"v2":150000},{"p":"HK","k":"b","t":2034,"v":90000,"v2":140000},
{"p":"HK","k":"r","t":2013,"v":328000},{"p":"HK","k":"r","t":2014,"v":303000},{"p":"HK","k":"r","t":2016,"v":203000},{"p":"HK","k":"r","t":2018,"v":140000},{"p":"HK","k":"r","t":2020,"v":125000},{"p":"HK","k":"r","t":2025,"v":125000},{"p":"HK","k":"r","t":2030,"v":125000},{"p":"HK","k":"r","t":2034,"v":119000},
{"p":"HK","k":"g","t":2013,"v":328000},{"p":"HK","k":"g","t":2014,"v":297000},{"p":"HK","k":"g","t":2016,"v":188000},{"p":"HK","k":"g","t":2018,"v":125000},{"p":"HK","k":"g","t":2020,"v":109000},{"p":"HK","k":"g","t":2025,"v":100000},{"p":"HK","k":"g","t":2030,"v":100000},{"p":"HK","k":"g","t":2034,"v":94000},

{"p":"MA","k":"o","t":1984,"v":1256000},{"p":"MA","k":"o","t":1985,"v":1160000},{"p":"MA","k":"o","t":1986,"v":1128000},{"p":"MA","k":"o","t":1987,"v":1096000},{"p":"MA","k":"o","t":1988,"v":1064000},{"p":"MA","k":"o","t":1989,"v":1048000},{"p":"MA","k":"o","t":1990,"v":1032000},{"p":"MA","k":"o","t":1991,"v":888000},{"p":"MA","k":"o","t":1992,"v":792000},{"p":"MA","k":"o","t":1993,"v":728000},{"p":"MA","k":"o","t":1994,"v":680000},{"p":"MA","k":"o","t":1995,"v":647000},{"p":"MA","k":"o","t":1996,"v":647000},{"p":"MA","k":"o","t":1997,"v":680000},{"p":"MA","k":"o","t":1998,"v":744000},{"p":"MA","k":"o","t":1999,"v":712000},{"p":"MA","k":"o","t":2000,"v":663000},{"p":"MA","k":"o","t":2001,"v":744000},{"p":"MA","k":"o","t":2002,"v":776000},{"p":"MA","k":"o","t":2003,"v":792000},{"p":"MA","k":"o","t":2004,"v":744000},{"p":"MA","k":"o","t":2005,"v":808000},{"p":"MA","k":"o","t":2006,"v":856000},{"p":"MA","k":"o","t":2007,"v":888000},{"p":"MA","k":"o","t":2008,"v":1048000},{"p":"MA","k":"o","t":2009,"v":1144000},{"p":"MA","k":"o","t":2010,"v":1224000},{"p":"MA","k":"o","t":2011,"v":1385000},{"p":"MA","k":"o","t":2012,"v":1369000},{"p":"MA","k":"o","t":2013,"v":1321000},
{"p":"MA","k":"m","t":1984,"v":503000},{"p":"MA","k":"m","t":1986,"v":583000},{"p":"MA","k":"m","t":1988,"v":680000},{"p":"MA","k":"m","t":1990,"v":776000},{"p":"MA","k":"m","t":1992,"v":792000},{"p":"MA","k":"m","t":1994,"v":712000},{"p":"MA","k":"m","t":1996,"v":776000},{"p":"MA","k":"m","t":1998,"v":840000},{"p":"MA","k":"m","t":2000,"v":856000},{"p":"MA","k":"m","t":2002,"v":840000},{"p":"MA","k":"m","t":2004,"v":936000},{"p":"MA","k":"m","t":2006,"v":1096000},{"p":"MA","k":"m","t":2008,"v":1256000},{"p":"MA","k":"m","t":2010,"v":1401000},{"p":"MA","k":"m","t":2012,"v":1513000},{"p":"MA","k":"m","t":2014,"v":1673000},{"p":"MA","k":"m","t":2016,"v":1833000},{"p":"MA","k":"m","t":2018,"v":1962000},{"p":"MA","k":"m","t":2020,"v":2042000},{"p":"MA","k":"m","t":2022,"v":2074000},{"p":"MA","k":"m","t":2025,"v":2074000},{"p":"MA","k":"m","t":2028,"v":2074000},{"p":"MA","k":"m","t":2030,"v":2058000},{"p":"MA","k":"m","t":2032,"v":2010000},{"p":"MA","k":"m","t":2034,"v":1913000},
{"p":"MA","k":"b","t":1984,"v":503000,"v2":550000},{"p":"MA","k":"b","t":1988,"v":647000,"v2":776000},{"p":"MA","k":"b","t":1990,"v":647000,"v2":904000},{"p":"MA","k":"b","t":1992,"v":680000,"v2":1032000},{"p":"MA","k":"b","t":1994,"v":583000,"v2":936000},{"p":"MA","k":"b","t":1996,"v":615000,"v2":1032000},{"p":"MA","k":"b","t":1998,"v":647000,"v2":1128000},{"p":"MA","k":"b","t":2000,"v":680000,"v2":1160000},{"p":"MA","k":"b","t":2002,"v":712000,"v2":1192000},{"p":"MA","k":"b","t":2004,"v":776000,"v2":1353000},{"p":"MA","k":"b","t":2006,"v":904000,"v2":1449000},{"p":"MA","k":"b","t":2008,"v":1096000,"v2":1577000},{"p":"MA","k":"b","t":2010,"v":1192000,"v2":1705000},{"p":"MA","k":"b","t":2012,"v":1128000,"v2":1900000},{"p":"MA","k":"b","t":2013,"v":1100000,"v2":1800000},{"p":"MA","k":"b","t":2016,"v":1128000,"v2":1673000},{"p":"MA","k":"b","t":2020,"v":968000,"v2":1513000},{"p":"MA","k":"b","t":2024,"v":840000,"v2":1385000},{"p":"MA","k":"b","t":2028,"v":744000,"v2":1256000},{"p":"MA","k":"b","t":2032,"v":680000,"v2":1192000},{"p":"MA","k":"b","t":2034,"v":647000,"v2":1128000},
{"p":"MA","k":"r","t":2013,"v":1513000},{"p":"MA","k":"r","t":2016,"v":1401000},{"p":"MA","k":"r","t":2020,"v":1288000},{"p":"MA","k":"r","t":2024,"v":1208000},{"p":"MA","k":"r","t":2028,"v":1144000},{"p":"MA","k":"r","t":2031,"v":1112000},{"p":"MA","k":"r","t":2034,"v":1032000},
{"p":"MA","k":"g","t":2013,"v":1513000},{"p":"MA","k":"g","t":2016,"v":1401000},{"p":"MA","k":"g","t":2020,"v":1272000},{"p":"MA","k":"g","t":2024,"v":1160000},{"p":"MA","k":"g","t":2028,"v":1064000},{"p":"MA","k":"g","t":2031,"v":1000000},{"p":"MA","k":"g","t":2034,"v":904000},

{"p":"HM","k":"o","t":1984,"v":660000},{"p":"HM","k":"o","t":1985,"v":695000},{"p":"HM","k":"o","t":1986,"v":680000},{"p":"HM","k":"o","t":1987,"v":670000},{"p":"HM","k":"o","t":1988,"v":650000},{"p":"HM","k":"o","t":1989,"v":550000},{"p":"HM","k":"o","t":1990,"v":520000},{"p":"HM","k":"o","t":1991,"v":430000},{"p":"HM","k":"o","t":1992,"v":400000},{"p":"HM","k":"o","t":1993,"v":360000},{"p":"HM","k":"o","t":1994,"v":330000},{"p":"HM","k":"o","t":1995,"v":310000},{"p":"HM","k":"o","t":1996,"v":280000},{"p":"HM","k":"o","t":1997,"v":210000},{"p":"HM","k":"o","t":1998,"v":180000},{"p":"HM","k":"o","t":1999,"v":160000},{"p":"HM","k":"o","t":2000,"v":140000},{"p":"HM","k":"o","t":2001,"v":180000},{"p":"HM","k":"o","t":2002,"v":270000},{"p":"HM","k":"o","t":2003,"v":290000},{"p":"HM","k":"o","t":2004,"v":300000},{"p":"HM","k":"o","t":2005,"v":270000},{"p":"HM","k":"o","t":2006,"v":250000},{"p":"HM","k":"o","t":2007,"v":260000},{"p":"HM","k":"o","t":2008,"v":230000},{"p":"HM","k":"o","t":2009,"v":200000},{"p":"HM","k":"o","t":2010,"v":180000},{"p":"HM","k":"o","t":2011,"v":150000},{"p":"HM","k":"o","t":2012,"v":120000},
{"p":"HM","k":"m","t":1984,"v":361000},{"p":"HM","k":"m","t":1986,"v":361000},{"p":"HM","k":"m","t":1988,"v":368000},{"p":"HM","k":"m","t":1990,"v":382000},{"p":"HM","k":"m","t":1992,"v":361000},{"p":"HM","k":"m","t":1994,"v":319000},{"p":"HM","k":"m","t":1996,"v":285000},{"p":"HM","k":"m","t":1998,"v":271000},{"p":"HM","k":"m","t":2000,"v":268000},{"p":"HM","k":"m","t":2002,"v":271000},{"p":"HM","k":"m","t":2004,"v":299000},{"p":"HM","k":"m","t":2006,"v":313000},{"p":"HM","k":"m","t":2008,"v":299000},{"p":"HM","k":"m","t":2010,"v":285000},{"p":"HM","k":"m","t":2012,"v":229000},{"p":"HM","k":"m","t":2014,"v":174000},{"p":"HM","k":"m","t":2016,"v":125000},{"p":"HM","k":"m","t":2018,"v":90000},{"p":"HM","k":"m","t":2020,"v":65000},{"p":"HM","k":"m","t":2024,"v":42000},{"p":"HM","k":"m","t":2028,"v":28000},{"p":"HM","k":"m","t":2032,"v":21000},{"p":"HM","k":"m","t":2034,"v":18000},
{"p":"HM","k":"b","t":1990,"v":330000,"v2":400000},{"p":"HM","k":"b","t":1992,"v":299000,"v2":368000},{"p":"HM","k":"b","t":1995,"v":257000,"v2":333000},{"p":"HM","k":"b","t":1998,"v":243000,"v2":326000},{"p":"HM","k":"b","t":2002,"v":243000,"v2":340000},{"p":"HM","k":"b","t":2005,"v":257000,"v2":368000},{"p":"HM","k":"b","t":2008,"v":257000,"v2":354000},{"p":"HM","k":"b","t":2011,"v":215000,"v2":313000},{"p":"HM","k":"b","t":2013,"v":174000,"v2":201000},{"p":"HM","k":"b","t":2014,"v":174000,"v2":194000},{"p":"HM","k":"b","t":2018,"v":229000,"v2":354000},{"p":"HM","k":"b","t":2022,"v":271000,"v2":451000},{"p":"HM","k":"b","t":2026,"v":285000,"v2":493000},{"p":"HM","k":"b","t":2030,"v":292000,"v2":507000},{"p":"HM","k":"b","t":2034,"v":285000,"v2":479000},
{"p":"HM","k":"r","t":2013,"v":188000},{"p":"HM","k":"r","t":2016,"v":236000},{"p":"HM","k":"r","t":2020,"v":299000},{"p":"HM","k":"r","t":2024,"v":319000},{"p":"HM","k":"r","t":2028,"v":326000},{"p":"HM","k":"r","t":2031,"v":333000},{"p":"HM","k":"r","t":2034,"v":319000},
{"p":"HM","k":"g","t":2013,"v":188000},{"p":"HM","k":"g","t":2016,"v":236000},{"p":"HM","k":"g","t":2020,"v":299000},{"p":"HM","k":"g","t":2024,"v":340000},{"p":"HM","k":"g","t":2028,"v":375000},{"p":"HM","k":"g","t":2031,"v":389000},{"p":"HM","k":"g","t":2034,"v":375000},

{"p":"BW","k":"o","t":1985,"v":183000},{"p":"BW","k":"o","t":1986,"v":168000},{"p":"BW","k":"o","t":1987,"v":142000},{"p":"BW","k":"o","t":1988,"v":116000},{"p":"BW","k":"o","t":1989,"v":116000},{"p":"BW","k":"o","t":1990,"v":116000},{"p":"BW","k":"o","t":1991,"v":157000},{"p":"BW","k":"o","t":1992,"v":183000},{"p":"BW","k":"o","t":1993,"v":178000},{"p":"BW","k":"o","t":1994,"v":173000},{"p":"BW","k":"o","t":1995,"v":173000},{"p":"BW","k":"o","t":1996,"v":188000},{"p":"BW","k":"o","t":1997,"v":275000},{"p":"BW","k":"o","t":1998,"v":352000},{"p":"BW","k":"o","t":1999,"v":378000},{"p":"BW","k":"o","t":2000,"v":378000},{"p":"BW","k":"o","t":2001,"v":465000},{"p":"BW","k":"o","t":2002,"v":522000},{"p":"BW","k":"o","t":2003,"v":624000},{"p":"BW","k":"o","t":2004,"v":552000},{"p":"BW","k":"o","t":2005,"v":445000},{"p":"BW","k":"o","t":2006,"v":414000},{"p":"BW","k":"o","t":2007,"v":306000},{"p":"BW","k":"o","t":2008,"v":234000},{"p":"BW","k":"o","t":2009,"v":183000},{"p":"BW","k":"o","t":2010,"v":229000},{"p":"BW","k":"o","t":2011,"v":265000},{"p":"BW","k":"o","t":2012,"v":311000},{"p":"BW","k":"o","t":2013,"v":357000},
{"p":"BW","k":"m","t":1985,"v":180000},{"p":"BW","k":"m","t":1986,"v":155000},{"p":"BW","k":"m","t":1987,"v":175000},{"p":"BW","k":"m","t":1988,"v":200000},{"p":"BW","k":"m","t":1990,"v":230000},{"p":"BW","k":"m","t":1991,"v":260000},{"p":"BW","k":"m","t":1993,"v":245000},{"p":"BW","k":"m","t":1995,"v":250000},{"p":"BW","k":"m","t":1997,"v":260000},{"p":"BW","k":"m","t":1999,"v":275000},{"p":"BW","k":"m","t":2001,"v":285000},{"p":"BW","k":"m","t":2003,"v":300000},{"p":"BW","k":"m","t":2005,"v":270000},{"p":"BW","k":"m","t":2007,"v":235000},{"p":"BW","k":"m","t":2009,"v":200000},{"p":"BW","k":"m","t":2010,"v":210000},{"p":"BW","k":"m","t":2011,"v":260000},{"p":"BW","k":"m","t":2012,"v":295000},{"p":"BW","k":"m","t":2013,"v":305000},{"p":"BW","k":"m","t":2015,"v":316000},{"p":"BW","k":"m","t":2018,"v":332000},{"p":"BW","k":"m","t":2021,"v":342000},{"p":"BW","k":"m","t":2024,"v":342000},{"p":"BW","k":"m","t":2027,"v":337000},{"p":"BW","k":"m","t":2030,"v":332000},{"p":"BW","k":"m","t":2032,"v":327000},{"p":"BW","k":"m","t":2034,"v":301000},
{"p":"BW","k":"b","t":1985,"v":170000,"v2":190000},{"p":"BW","k":"b","t":1990,"v":215000,"v2":245000},{"p":"BW","k":"b","t":1995,"v":235000,"v2":265000},{"p":"BW","k":"b","t":2000,"v":265000,"v2":295000},{"p":"BW","k":"b","t":2003,"v":285000,"v2":315000},{"p":"BW","k":"b","t":2007,"v":220000,"v2":250000},{"p":"BW","k":"b","t":2009,"v":185000,"v2":215000},{"p":"BW","k":"b","t":2011,"v":245000,"v2":275000},{"p":"BW","k":"b","t":2013,"v":280000,"v2":330000},{"p":"BW","k":"b","t":2015,"v":255000,"v2":350000},{"p":"BW","k":"b","t":2020,"v":255000,"v2":350000},{"p":"BW","k":"b","t":2025,"v":255000,"v2":350000},{"p":"BW","k":"b","t":2030,"v":255000,"v2":345000},{"p":"BW","k":"b","t":2034,"v":250000,"v2":320000},
{"p":"BW","k":"r","t":2013,"v":305000},{"p":"BW","k":"r","t":2015,"v":306000},{"p":"BW","k":"r","t":2018,"v":316000},{"p":"BW","k":"r","t":2021,"v":337000},{"p":"BW","k":"r","t":2024,"v":332000},{"p":"BW","k":"r","t":2027,"v":332000},{"p":"BW","k":"r","t":2030,"v":332000},{"p":"BW","k":"r","t":2034,"v":301000},
{"p":"BW","k":"g","t":2013,"v":305000},{"p":"BW","k":"g","t":2015,"v":286000},{"p":"BW","k":"g","t":2018,"v":327000},{"p":"BW","k":"g","t":2021,"v":342000},{"p":"BW","k":"g","t":2024,"v":337000},{"p":"BW","k":"g","t":2027,"v":337000},{"p":"BW","k":"g","t":2030,"v":335000},{"p":"BW","k":"g","t":2032,"v":327000},{"p":"BW","k":"g","t":2034,"v":301000},

{"p":"HE","k":"o","t":1985,"v":652000},{"p":"HE","k":"o","t":1986,"v":617000},{"p":"HE","k":"o","t":1987,"v":852000},{"p":"HE","k":"o","t":1988,"v":678000},{"p":"HE","k":"o","t":1989,"v":626000},{"p":"HE","k":"o","t":1990,"v":522000},{"p":"HE","k":"o","t":1991,"v":426000},{"p":"HE","k":"o","t":1992,"v":365000},{"p":"HE","k":"o","t":1993,"v":339000},{"p":"HE","k":"o","t":1994,"v":330000},{"p":"HE","k":"o","t":1995,"v":270000},{"p":"HE","k":"o","t":1996,"v":348000},{"p":"HE","k":"o","t":1997,"v":357000},{"p":"HE","k":"o","t":1998,"v":313000},{"p":"HE","k":"o","t":1999,"v":243000},{"p":"HE","k":"o","t":2000,"v":322000},{"p":"HE","k":"o","t":2001,"v":339000},{"p":"HE","k":"o","t":2002,"v":374000},{"p":"HE","k":"o","t":2003,"v":322000},{"p":"HE","k":"o","t":2004,"v":252000},{"p":"HE","k":"o","t":2005,"v":226000},{"p":"HE","k":"o","t":2006,"v":217000},{"p":"HE","k":"o","t":2007,"v":191000},{"p":"HE","k":"o","t":2008,"v":165000},{"p":"HE","k":"o","t":2009,"v":174000},{"p":"HE","k":"o","t":2010,"v":191000},{"p":"HE","k":"o","t":2011,"v":183000},{"p":"HE","k":"o","t":2012,"v":157000},{"p":"HE","k":"o","t":2013,"v":113000},
{"p":"HE","k":"m","t":1984,"v":617000},{"p":"HE","k":"m","t":1986,"v":530000},{"p":"HE","k":"m","t":1988,"v":496000},{"p":"HE","k":"m","t":1990,"v":461000},{"p":"HE","k":"m","t":1992,"v":391000},{"p":"HE","k":"m","t":1994,"v":304000},{"p":"HE","k":"m","t":1996,"v":357000},{"p":"HE","k":"m","t":1998,"v":365000},{"p":"HE","k":"m","t":2000,"v":374000},{"p":"HE","k":"m","t":2002,"v":365000},{"p":"HE","k":"m","t":2004,"v":339000},{"p":"HE","k":"m","t":2006,"v":270000},{"p":"HE","k":"m","t":2008,"v":209000},{"p":"HE","k":"m","t":2010,"v":174000},{"p":"HE","k":"m","t":2012,"v":148000},{"p":"HE","k":"m","t":2014,"v":122000},{"p":"HE","k":"m","t":2016,"v":96000},{"p":"HE","k":"m","t":2020,"v":61000},{"p":"HE","k":"m","t":2024,"v":35000},{"p":"HE","k":"m","t":2028,"v":17000},{"p":"HE","k":"m","t":2032,"v":9000},{"p":"HE","k":"m","t":2034,"v":5000},
{"p":"HE","k":"b","t":1984,"v":565000,"v2":652000},{"p":"HE","k":"b","t":1988,"v":461000,"v2":565000},{"p":"HE","k":"b","t":1990,"v":409000,"v2":530000},{"p":"HE","k":"b","t":1993,"v":287000,"v2":443000},{"p":"HE","k":"b","t":1996,"v":252000,"v2":426000},{"p":"HE","k":"b","t":2000,"v":270000,"v2":426000},{"p":"HE","k":"b","t":2003,"v":235000,"v2":443000},{"p":"HE","k":"b","t":2006,"v":183000,"v2":374000},{"p":"HE","k":"b","t":2009,"v":130000,"v2":252000},{"p":"HE","k":"b","t":2012,"v":96000,"v2":217000},{"p":"HE","k":"b","t":2014,"v":78000,"v2":217000},{"p":"HE","k":"b","t":2016,"v":61000,"v2":252000},{"p":"HE","k":"b","t":2020,"v":43000,"v2":304000},{"p":"HE","k":"b","t":2024,"v":43000,"v2":313000},{"p":"HE","k":"b","t":2028,"v":35000,"v2":304000},{"p":"HE","k":"b","t":2032,"v":30000,"v2":287000},{"p":"HE","k":"b","t":2034,"v":26000,"v2":278000},
{"p":"HE","k":"r","t":2013,"v":135000},{"p":"HE","k":"r","t":2016,"v":174000},{"p":"HE","k":"r","t":2019,"v":186000},{"p":"HE","k":"r","t":2022,"v":191000},{"p":"HE","k":"r","t":2025,"v":174000},{"p":"HE","k":"r","t":2028,"v":157000},{"p":"HE","k":"r","t":2031,"v":139000},{"p":"HE","k":"r","t":2034,"v":122000},
{"p":"HE","k":"g","t":2013,"v":135000},{"p":"HE","k":"g","t":2016,"v":174000},{"p":"HE","k":"g","t":2019,"v":191000},{"p":"HE","k":"g","t":2022,"v":191000},{"p":"HE","k":"g","t":2025,"v":165000},{"p":"HE","k":"g","t":2028,"v":148000},{"p":"HE","k":"g","t":2031,"v":130000},{"p":"HE","k":"g","t":2034,"v":113000},

{"p":"NP","k":"o","t":1985,"v":43000},{"p":"NP","k":"o","t":1986,"v":35000},{"p":"NP","k":"o","t":1987,"v":62000},{"p":"NP","k":"o","t":1988,"v":50000},{"p":"NP","k":"o","t":1989,"v":24000},{"p":"NP","k":"o","t":1990,"v":73000},{"p":"NP","k":"o","t":1991,"v":50000},{"p":"NP","k":"o","t":1992,"v":103000},{"p":"NP","k":"o","t":1993,"v":137000},{"p":"NP","k":"o","t":1994,"v":171000},{"p":"NP","k":"o","t":1995,"v":163000},{"p":"NP","k":"o","t":1996,"v":178000},{"p":"NP","k":"o","t":1997,"v":156000},{"p":"NP","k":"o","t":1998,"v":396000},{"p":"NP","k":"o","t":1999,"v":156000},{"p":"NP","k":"o","t":2000,"v":231000},{"p":"NP","k":"o","t":2001,"v":227000},{"p":"NP","k":"o","t":2002,"v":257000},{"p":"NP","k":"o","t":2003,"v":122000},{"p":"NP","k":"o","t":2004,"v":99000},{"p":"NP","k":"o","t":2005,"v":32000},{"p":"NP","k":"o","t":2006,"v":39000},{"p":"NP","k":"o","t":2007,"v":133000},{"p":"NP","k":"o","t":2008,"v":73000},{"p":"NP","k":"o","t":2009,"v":201000},{"p":"NP","k":"o","t":2011,"v":287000},{"p":"NP","k":"o","t":2012,"v":129000},{"p":"NP","k":"o","t":2013,"v":77000},
{"p":"NP","k":"m","t":1984,"v":133000},{"p":"NP","k":"m","t":1986,"v":129000},{"p":"NP","k":"m","t":1988,"v":131000},{"p":"NP","k":"m","t":1989,"v":122000},{"p":"NP","k":"m","t":1990,"v":129000},{"p":"NP","k":"m","t":1993,"v":133000},{"p":"NP","k":"m","t":1996,"v":141000},{"p":"NP","k":"m","t":1997,"v":144000},{"p":"NP","k":"m","t":1999,"v":126000},{"p":"NP","k":"m","t":2001,"v":107000},{"p":"NP","k":"m","t":2003,"v":95000},{"p":"NP","k":"m","t":2005,"v":92000},{"p":"NP","k":"m","t":2008,"v":92000},{"p":"NP","k":"m","t":2011,"v":92000},{"p":"NP","k":"m","t":2013,"v":92000},{"p":"NP","k":"m","t":2016,"v":95000},{"p":"NP","k":"m","t":2020,"v":102000},{"p":"NP","k":"m","t":2025,"v":103000},{"p":"NP","k":"m","t":2030,"v":102000},{"p":"NP","k":"m","t":2034,"v":99000},
{"p":"NP","k":"b","t":1984,"v":125000,"v2":141000},{"p":"NP","k":"b","t":1990,"v":121000,"v2":137000},{"p":"NP","k":"b","t":1996,"v":133000,"v2":149000},{"p":"NP","k":"b","t":2000,"v":110000,"v2":126000},{"p":"NP","k":"b","t":2005,"v":85000,"v2":99000},{"p":"NP","k":"b","t":2013,"v":85000,"v2":99000},{"p":"NP","k":"b","t":2016,"v":90000,"v2":130000},{"p":"NP","k":"b","t":2020,"v":95000,"v2":135000},{"p":"NP","k":"b","t":2025,"v":95000,"v2":135000},{"p":"NP","k":"b","t":2030,"v":95000,"v2":135000},{"p":"NP","k":"b","t":2034,"v":93000,"v2":133000},
{"p":"NP","k":"r","t":2013,"v":92000},{"p":"NP","k":"r","t":2015,"v":103000},{"p":"NP","k":"r","t":2016,"v":118000},{"p":"NP","k":"r","t":2018,"v":126000},{"p":"NP","k":"r","t":2022,"v":126000},{"p":"NP","k":"r","t":2026,"v":124000},{"p":"NP","k":"r","t":2030,"v":122000},{"p":"NP","k":"r","t":2034,"v":118000},
{"p":"NP","k":"g","t":2013,"v":92000},{"p":"NP","k":"g","t":2014,"v":88000},{"p":"NP","k":"g","t":2015,"v":107000},{"p":"NP","k":"g","t":2016,"v":126000},{"p":"NP","k":"g","t":2018,"v":133000},{"p":"NP","k":"g","t":2022,"v":133000},{"p":"NP","k":"g","t":2026,"v":131000},{"p":"NP","k":"g","t":2030,"v":129000},{"p":"NP","k":"g","t":2034,"v":127000},

{"p":"NE","k":"o","t":1994,"v":17600},{"p":"NE","k":"o","t":1995,"v":32400},{"p":"NE","k":"o","t":1996,"v":60300},{"p":"NE","k":"o","t":1997,"v":48500},{"p":"NE","k":"o","t":1998,"v":86800},{"p":"NE","k":"o","t":1999,"v":77900},{"p":"NE","k":"o","t":2000,"v":122000},{"p":"NE","k":"o","t":2001,"v":119000},{"p":"NE","k":"o","t":2002,"v":129400},{"p":"NE","k":"o","t":2003,"v":147100},{"p":"NE","k":"o","t":2004,"v":163200},{"p":"NE","k":"o","t":2005,"v":150000},{"p":"NE","k":"o","t":2006,"v":136800},{"p":"NE","k":"o","t":2007,"v":88200},{"p":"NE","k":"o","t":2008,"v":116200},{"p":"NE","k":"o","t":2009,"v":116200},{"p":"NE","k":"o","t":2010,"v":141200},{"p":"NE","k":"o","t":2011,"v":132400},{"p":"NE","k":"o","t":2012,"v":69100},{"p":"NE","k":"o","t":2013,"v":148500},
{"p":"NE","k":"m","t":1984,"v":50000},{"p":"NE","k":"m","t":1986,"v":46200},{"p":"NE","k":"m","t":1988,"v":47000},{"p":"NE","k":"m","t":1990,"v":51500},{"p":"NE","k":"m","t":1992,"v":55900},{"p":"NE","k":"m","t":1993,"v":55000},{"p":"NE","k":"m","t":1994,"v":48500},{"p":"NE","k":"m","t":1995,"v":41200},{"p":"NE","k":"m","t":1996,"v":44100},{"p":"NE","k":"m","t":1998,"v":63200},{"p":"NE","k":"m","t":2000,"v":86800},{"p":"NE","k":"m","t":2002,"v":101500},{"p":"NE","k":"m","t":2004,"v":113200},{"p":"NE","k":"m","t":2006,"v":122000},{"p":"NE","k":"m","t":2007,"v":120500},{"p":"NE","k":"m","t":2008,"v":116200},{"p":"NE","k":"m","t":2010,"v":114700},{"p":"NE","k":"m","t":2011,"v":116200},{"p":"NE","k":"m","t":2012,"v":113200},{"p":"NE","k":"m","t":2013,"v":110300},{"p":"NE","k":"m","t":2016,"v":119100},{"p":"NE","k":"m","t":2019,"v":126500},{"p":"NE","k":"m","t":2022,"v":132400},{"p":"NE","k":"m","t":2025,"v":135300},{"p":"NE","k":"m","t":2028,"v":138200},{"p":"NE","k":"m","t":2031,"v":141200},{"p":"NE","k":"m","t":2034,"v":135300},
{"p":"NE","k":"b","t":1984,"v":48000,"v2":53000},{"p":"NE","k":"b","t":1990,"v":48000,"v2":57000},{"p":"NE","k":"b","t":1993,"v":50000,"v2":63000},{"p":"NE","k":"b","t":1995,"v":40000,"v2":47000},{"p":"NE","k":"b","t":1998,"v":57000,"v2":72000},{"p":"NE","k":"b","t":2001,"v":83000,"v2":104000},{"p":"NE","k":"b","t":2004,"v":104000,"v2":124000},{"p":"NE","k":"b","t":2007,"v":110000,"v2":127000},{"p":"NE","k":"b","t":2010,"v":100000,"v2":120000},{"p":"NE","k":"b","t":2013,"v":104000,"v2":116000},{"p":"NE","k":"b","t":2016,"v":110000,"v2":135000},{"p":"NE","k":"b","t":2020,"v":100000,"v2":130000},{"p":"NE","k":"b","t":2025,"v":91000,"v2":121000},{"p":"NE","k":"b","t":2030,"v":88000,"v2":113000},{"p":"NE","k":"b","t":2034,"v":86000,"v2":104000},
{"p":"NE","k":"r","t":2013,"v":110300},{"p":"NE","k":"r","t":2016,"v":111800},{"p":"NE","k":"r","t":2019,"v":105900},{"p":"NE","k":"r","t":2022,"v":100000},{"p":"NE","k":"r","t":2025,"v":95600},{"p":"NE","k":"r","t":2028,"v":92600},{"p":"NE","k":"r","t":2031,"v":91200},{"p":"NE","k":"r","t":2034,"v":86800},
{"p":"NE","k":"g","t":2013,"v":125000},{"p":"NE","k":"g","t":2015,"v":135000},{"p":"NE","k":"g","t":2017,"v":141200},{"p":"NE","k":"g","t":2019,"v":135300},{"p":"NE","k":"g","t":2022,"v":125000},{"p":"NE","k":"g","t":2025,"v":116200},{"p":"NE","k":"g","t":2028,"v":111800},{"p":"NE","k":"g","t":2031,"v":107400},{"p":"NE","k":"g","t":2034,"v":97100}
]},
"columns":4,
"bounds":"flush",
"spacing":{"row":103,"column":64},
"concat":[
{"title":{"text":"Grey seals","dy":34.4},"width":410,"height":176,"transform":[{"filter":"datum.p=='GS'"}],
 "encoding":{"x":{"field":"t","type":"quantitative","title":null,"scale":{"domain":[1983,2035.2],"nice":false,"zero":false},"axis":{"values":[1990,2000,2010,2020,2030],"format":"d","labelExpr":"datum.value%20==10?datum.label:''"}},
  "y":{"field":"v","type":"quantitative","title":null,"scale":{"domain":[2220,10075],"nice":false,"zero":false},"axis":{"values":[4000,6000,8000,10000],"format":"d","labelExpr":"indexof([4000,10000],datum.value)>=0?datum.label:''"}}},
 "layer":[
  {"transform":[{"filter":"datum.k=='b'"}],"mark":{"type":"area","color":"#D3D3D3","clip":true,"interpolate":"monotone"},"encoding":{"y2":{"field":"v2"}}},
  {"transform":[{"filter":"datum.k=='q'"}],"mark":{"type":"line","color":"#808080","strokeWidth":2,"clip":true,"interpolate":"monotone"},"encoding":{"detail":{"field":"s"}}},
  {"transform":[{"filter":"datum.k=='r'"}],"mark":{"type":"line","color":"#E3161B","strokeWidth":2.5,"clip":true,"interpolate":"monotone"},"encoding":{}},
  {"transform":[{"filter":"datum.k=='g'"}],"mark":{"type":"line","color":"#8FD88F","strokeWidth":6,"clip":true,"interpolate":"monotone"},"encoding":{}},
  {"transform":[{"filter":"datum.k=='g'"}],"mark":{"type":"line","color":"#1E9E1E","strokeWidth":2.5,"clip":true,"interpolate":"monotone"},"encoding":{}},
  {"transform":[{"filter":"datum.k=='m'"}],"mark":{"type":"line","color":"black","strokeWidth":2.5,"clip":true,"interpolate":"monotone"},"encoding":{}},
  {"transform":[{"filter":"datum.k=='o'"}],"mark":{"type":"line","color":"black","strokeWidth":1,"strokeDash":[5,3],"clip":true},"encoding":{}},
  {"transform":[{"filter":"datum.k=='o'"}],"mark":{"type":"point","filled":true,"color":"black","opacity":1,"size":90,"clip":true},"encoding":{}}
 ]},
{"title":"Cod","width":410,"height":176,"transform":[{"filter":"datum.p=='CO'"}],
 "encoding":{"x":{"field":"t","type":"quantitative","title":null,"scale":{"domain":[1983,2035.2],"nice":false,"zero":false},"axis":{"values":[1990,2000,2010,2020,2030],"format":"d","labelExpr":"datum.value%20==10?datum.label:''"}},
  "y":{"field":"v","type":"quantitative","title":null,"scale":{"domain":[-1760,60000],"nice":false,"zero":false},"axis":{"values":[0,10000,20000,30000,40000,50000],"format":"d","labelExpr":"indexof([0,30000],datum.value)>=0?datum.label:''"}}},
 "layer":[
  {"transform":[{"filter":"datum.k=='b'"}],"mark":{"type":"area","color":"#D3D3D3","clip":true,"interpolate":"monotone"},"encoding":{"y2":{"field":"v2"}}},
  {"transform":[{"filter":"datum.k=='hs'"}],"mark":{"type":"line","color":"#707070","strokeWidth":3,"clip":true},"encoding":{}},
  {"transform":[{"filter":"datum.k=='hd'"}],"mark":{"type":"line","color":"black","strokeWidth":1.5,"strokeDash":[8,5],"clip":true},"encoding":{}},
  {"transform":[{"filter":"datum.k=='r'"}],"mark":{"type":"line","color":"#E3161B","strokeWidth":2.5,"clip":true,"interpolate":"monotone"},"encoding":{}},
  {"transform":[{"filter":"datum.k=='g'"}],"mark":{"type":"line","color":"#8FD88F","strokeWidth":6,"clip":true,"interpolate":"monotone"},"encoding":{}},
  {"transform":[{"filter":"datum.k=='g'"}],"mark":{"type":"line","color":"#1E9E1E","strokeWidth":2.5,"clip":true,"interpolate":"monotone"},"encoding":{}},
  {"transform":[{"filter":"datum.k=='m'"}],"mark":{"type":"line","color":"black","strokeWidth":2.5,"clip":true,"interpolate":"monotone"},"encoding":{}},
  {"transform":[{"filter":"datum.k=='o'"}],"mark":{"type":"line","color":"black","strokeWidth":1,"strokeDash":[5,3],"clip":true},"encoding":{}},
  {"transform":[{"filter":"datum.k=='o'"}],"mark":{"type":"point","filled":true,"color":"black","opacity":1,"size":90,"clip":true},"encoding":{}}
 ]},
{"title":"Juvenile cod","width":410,"height":176,"transform":[{"filter":"datum.p=='JC'"}],
 "encoding":{"x":{"field":"t","type":"quantitative","title":null,"scale":{"domain":[1983,2035.2],"nice":false,"zero":false},"axis":{"values":[1990,2000,2010,2020,2030],"format":"d","labelExpr":"datum.value%20==10?datum.label:''"}},
  "y":{"field":"v","type":"quantitative","title":null,"scale":{"domain":[-1500,78500],"nice":false,"zero":false},"axis":{"values":[0,20000,40000,60000],"format":"d","labelExpr":"indexof([0,40000],datum.value)>=0?datum.label:''"}}},
 "layer":[
  {"transform":[{"filter":"datum.k=='b'"}],"mark":{"type":"area","color":"#D3D3D3","clip":true,"interpolate":"monotone"},"encoding":{"y2":{"field":"v2"}}},
  {"transform":[{"filter":"datum.k=='r'"}],"mark":{"type":"line","color":"#E3161B","strokeWidth":2.5,"clip":true,"interpolate":"monotone"},"encoding":{}},
  {"transform":[{"filter":"datum.k=='g'"}],"mark":{"type":"line","color":"#8FD88F","strokeWidth":6,"clip":true,"interpolate":"monotone"},"encoding":{}},
  {"transform":[{"filter":"datum.k=='g'"}],"mark":{"type":"line","color":"#1E9E1E","strokeWidth":2.5,"clip":true,"interpolate":"monotone"},"encoding":{}},
  {"transform":[{"filter":"datum.k=='m'"}],"mark":{"type":"line","color":"black","strokeWidth":2.5,"clip":true,"interpolate":"monotone"},"encoding":{}},
  {"transform":[{"filter":"datum.k=='o'"}],"mark":{"type":"line","color":"black","strokeWidth":1,"clip":true},"encoding":{}},
  {"transform":[{"filter":"datum.k=='o'"}],"mark":{"type":"point","filled":true,"color":"black","opacity":1,"size":90,"clip":true},"encoding":{}}
 ]},
{"title":{"text":"Haddock","dy":7.9},"width":410,"height":176,"transform":[{"filter":"datum.p=='HA'"}],
 "encoding":{"x":{"field":"t","type":"quantitative","title":null,"scale":{"domain":[1983,2035.2],"nice":false,"zero":false},"axis":{"values":[1990,2000,2010,2020,2030],"format":"d","labelExpr":"datum.value%20==10?datum.label:''"}},
  "y":{"field":"v","type":"quantitative","title":null,"scale":{"domain":[12600,122100],"nice":false,"zero":false},"axis":{"values":[20000,40000,60000,80000,100000,120000],"format":"d","labelExpr":"indexof([20000,100000],datum.value)>=0?datum.label:''"}}},
 "layer":[
  {"transform":[{"filter":"datum.k=='b'"}],"mark":{"type":"area","color":"#D3D3D3","clip":true,"interpolate":"monotone"},"encoding":{"y2":{"field":"v2"}}},
  {"transform":[{"filter":"datum.k=='r'"}],"mark":{"type":"line","color":"#E3161B","strokeWidth":4,"clip":true,"interpolate":"monotone"},"encoding":{}},
  {"transform":[{"filter":"datum.k=='g'"}],"mark":{"type":"line","color":"#8FD88F","strokeWidth":5,"clip":true,"interpolate":"monotone"},"encoding":{}},
  {"transform":[{"filter":"datum.k=='g'"}],"mark":{"type":"line","color":"#1E9E1E","strokeWidth":2.5,"clip":true,"interpolate":"monotone"},"encoding":{}},
  {"transform":[{"filter":"datum.k=='m'"}],"mark":{"type":"line","color":"black","strokeWidth":2.5,"clip":true,"interpolate":"monotone"},"encoding":{}},
  {"transform":[{"filter":"datum.k=='o'"}],"mark":{"type":"line","color":"black","strokeWidth":1,"strokeDash":[5,3],"clip":true},"encoding":{}},
  {"transform":[{"filter":"datum.k=='o'"}],"mark":{"type":"point","filled":true,"color":"black","opacity":1,"size":90,"clip":true},"encoding":{}}
 ]},
{"title":"Juvenile haddock","width":410,"height":176,"transform":[{"filter":"datum.p=='JH'"}],
 "encoding":{"x":{"field":"t","type":"quantitative","title":null,"scale":{"domain":[1983,2035.2],"nice":false,"zero":false},"axis":{"values":[1990,2000,2010,2020,2030],"format":"d","labelExpr":"datum.value%20==10?datum.label:''"}},
  "y":{"field":"v","type":"quantitative","title":null,"scale":{"domain":[-1700,178000],"nice":false,"zero":false},"axis":{"values":[0,50000,100000,150000],"format":"d","labelExpr":"indexof([0,100000],datum.value)>=0?datum.label:''"}}},
 "layer":[
  {"transform":[{"filter":"datum.k=='b'"}],"mark":{"type":"area","color":"#D3D3D3","clip":true,"interpolate":"monotone"},"encoding":{"y2":{"field":"v2"}}},
  {"transform":[{"filter":"datum.k=='r'"}],"mark":{"type":"line","color":"#E3161B","strokeWidth":2.5,"clip":true,"interpolate":"monotone"},"encoding":{}},
  {"transform":[{"filter":"datum.k=='g'"}],"mark":{"type":"line","color":"#8FD88F","strokeWidth":6,"clip":true,"interpolate":"monotone"},"encoding":{}},
  {"transform":[{"filter":"datum.k=='g'"}],"mark":{"type":"line","color":"#1E9E1E","strokeWidth":2.5,"clip":true,"interpolate":"monotone"},"encoding":{}},
  {"transform":[{"filter":"datum.k=='m'"}],"mark":{"type":"line","color":"black","strokeWidth":2.5,"clip":true,"interpolate":"monotone"},"encoding":{}},
  {"transform":[{"filter":"datum.k=='o'"}],"mark":{"type":"line","color":"black","strokeWidth":1,"clip":true},"encoding":{}},
  {"transform":[{"filter":"datum.k=='o'"}],"mark":{"type":"point","filled":true,"color":"black","opacity":1,"size":90,"clip":true},"encoding":{}}
 ]},
{"title":"Whiting","width":410,"height":176,"transform":[{"filter":"datum.p=='WH'"}],
 "encoding":{"x":{"field":"t","type":"quantitative","title":null,"scale":{"domain":[1983,2035.2],"nice":false,"zero":false},"axis":{"values":[1990,2000,2010,2020,2030],"format":"d","labelExpr":"datum.value%20==10?datum.label:''"}},
  "y":{"field":"v","type":"quantitative","title":null,"scale":{"domain":[-3900,135000],"nice":false,"zero":false},"axis":{"values":[0,20000,40000,60000,80000,100000,120000],"format":"d","labelExpr":"indexof([0,80000],datum.value)>=0?datum.label:''"}}},
 "layer":[
  {"transform":[{"filter":"datum.k=='b'"}],"mark":{"type":"area","color":"#D3D3D3","clip":true,"interpolate":"monotone"},"encoding":{"y2":{"field":"v2"}}},
  {"transform":[{"filter":"datum.k=='hs'"}],"mark":{"type":"line","color":"#222222","strokeWidth":1.8,"clip":true},"encoding":{}},
  {"transform":[{"filter":"datum.k=='hd'"}],"mark":{"type":"line","color":"black","strokeWidth":1.5,"strokeDash":[8,5],"clip":true},"encoding":{}},
  {"transform":[{"filter":"datum.k=='r'"}],"mark":{"type":"line","color":"#E3161B","strokeWidth":3,"clip":true,"interpolate":"monotone"},"encoding":{}},
  {"transform":[{"filter":"datum.k=='g'"}],"mark":{"type":"line","color":"#8FD88F","strokeWidth":6,"clip":true,"interpolate":"monotone"},"encoding":{}},
  {"transform":[{"filter":"datum.k=='g'"}],"mark":{"type":"line","color":"#1E9E1E","strokeWidth":2.5,"clip":true,"interpolate":"monotone"},"encoding":{}},
  {"transform":[{"filter":"datum.k=='m'"}],"mark":{"type":"line","color":"black","strokeWidth":2.5,"clip":true,"interpolate":"monotone"},"encoding":{}},
  {"transform":[{"filter":"datum.k=='o'"}],"mark":{"type":"line","color":"black","strokeWidth":1,"strokeDash":[5,3],"clip":true},"encoding":{}},
  {"transform":[{"filter":"datum.k=='o'"}],"mark":{"type":"point","filled":true,"color":"black","opacity":1,"size":90,"clip":true},"encoding":{}}
 ]},
{"title":"Juvenile whiting","width":410,"height":176,"transform":[{"filter":"datum.p=='JW'"}],
 "encoding":{"x":{"field":"t","type":"quantitative","title":null,"scale":{"domain":[1983,2035.2],"nice":false,"zero":false},"axis":{"values":[1990,2000,2010,2020,2030],"format":"d","labelExpr":"datum.value%20==10?datum.label:''"}},
  "y":{"field":"v","type":"quantitative","title":null,"scale":{"domain":[-40000,1373000],"nice":false,"zero":false},"axis":{"values":[0,200000,400000,600000,800000,1000000,1200000],"format":"d","labelExpr":"indexof([0,800000],datum.value)>=0?datum.label:''"}}},
 "layer":[
  {"transform":[{"filter":"datum.k=='b'"}],"mark":{"type":"area","color":"#D3D3D3","clip":true,"interpolate":"monotone"},"encoding":{"y2":{"field":"v2"}}},
  {"transform":[{"filter":"datum.k=='r'"}],"mark":{"type":"line","color":"#E3161B","strokeWidth":3,"clip":true,"interpolate":"monotone"},"encoding":{}},
  {"transform":[{"filter":"datum.k=='g'"}],"mark":{"type":"line","color":"#8FD88F","strokeWidth":6,"clip":true,"interpolate":"monotone"},"encoding":{}},
  {"transform":[{"filter":"datum.k=='g'"}],"mark":{"type":"line","color":"#1E9E1E","strokeWidth":2.5,"clip":true,"interpolate":"monotone"},"encoding":{}},
  {"transform":[{"filter":"datum.k=='m'"}],"mark":{"type":"line","color":"black","strokeWidth":2.5,"clip":true,"interpolate":"monotone"},"encoding":{}},
  {"transform":[{"filter":"datum.k=='o'"}],"mark":{"type":"line","color":"black","strokeWidth":1,"strokeDash":[5,3],"clip":true},"encoding":{}},
  {"transform":[{"filter":"datum.k=='o'"}],"mark":{"type":"point","filled":true,"color":"black","opacity":1,"size":90,"clip":true},"encoding":{}}
 ]},
{"title":"Saithe","width":410,"height":176,"transform":[{"filter":"datum.p=='SA'"}],
 "encoding":{"x":{"field":"t","type":"quantitative","title":null,"scale":{"domain":[1983,2035.2],"nice":false,"zero":false},"axis":{"values":[1990,2000,2010,2020,2030],"format":"d","labelExpr":"datum.value%20==10?datum.label:''"}},
  "y":{"field":"v","type":"quantitative","title":null,"scale":{"domain":[-13000,1413000],"nice":false,"zero":false},"axis":{"values":[0,200000,400000,600000,800000,1000000,1200000,1400000],"format":"d","labelExpr":"indexof([0,800000],datum.value)>=0?datum.label:''"}}},
 "layer":[
  {"transform":[{"filter":"datum.k=='b'"}],"mark":{"type":"area","color":"#D3D3D3","clip":true,"interpolate":"monotone"},"encoding":{"y2":{"field":"v2"}}},
  {"transform":[{"filter":"datum.k=='r'"}],"mark":{"type":"line","color":"#E3161B","strokeWidth":3,"clip":true,"interpolate":"monotone"},"encoding":{}},
  {"transform":[{"filter":"datum.k=='g'"}],"mark":{"type":"line","color":"#8FD88F","strokeWidth":6,"clip":true,"interpolate":"monotone"},"encoding":{}},
  {"transform":[{"filter":"datum.k=='g'"}],"mark":{"type":"line","color":"#1E9E1E","strokeWidth":2.5,"clip":true,"interpolate":"monotone"},"encoding":{}},
  {"transform":[{"filter":"datum.k=='m'"}],"mark":{"type":"line","color":"black","strokeWidth":2.5,"clip":true,"interpolate":"monotone"},"encoding":{}},
  {"transform":[{"filter":"datum.k=='o'"}],"mark":{"type":"line","color":"black","strokeWidth":1,"clip":true},"encoding":{}},
  {"transform":[{"filter":"datum.k=='o'"}],"mark":{"type":"point","filled":true,"color":"black","opacity":1,"size":90,"clip":true},"encoding":{}}
 ]},
{"title":"Monkfish","width":410,"height":176,"transform":[{"filter":"datum.p=='MO'"}],
 "encoding":{"x":{"field":"t","type":"quantitative","title":null,"scale":{"domain":[1983,2035.2],"nice":false,"zero":false},"axis":{"values":[1990,2000,2010,2020,2030],"format":"d","labelExpr":"datum.value%20==10?datum.label:''"}},
  "y":{"field":"v","type":"quantitative","title":null,"scale":{"domain":[2030,24660],"nice":false,"zero":false},"axis":{"values":[5000,10000,15000,20000],"format":"d","labelExpr":"indexof([5000,20000],datum.value)>=0?datum.label:''"}}},
 "layer":[
  {"transform":[{"filter":"datum.k=='b'"}],"mark":{"type":"area","color":"#D3D3D3","clip":true,"interpolate":"monotone"},"encoding":{"y2":{"field":"v2"}}},
  {"transform":[{"filter":"datum.k=='q'"}],"mark":{"type":"line","color":"#808080","strokeWidth":2.5,"clip":true,"interpolate":"monotone"},"encoding":{"detail":{"field":"s"}}},
  {"transform":[{"filter":"datum.k=='r'"}],"mark":{"type":"line","color":"#E3161B","strokeWidth":3,"clip":true,"interpolate":"monotone"},"encoding":{}},
  {"transform":[{"filter":"datum.k=='g'"}],"mark":{"type":"line","color":"#8FD88F","strokeWidth":6,"clip":true,"interpolate":"monotone"},"encoding":{}},
  {"transform":[{"filter":"datum.k=='g'"}],"mark":{"type":"line","color":"#1E9E1E","strokeWidth":2.5,"clip":true,"interpolate":"monotone"},"encoding":{}},
  {"transform":[{"filter":"datum.k=='m'"}],"mark":{"type":"line","color":"black","strokeWidth":2.5,"clip":true,"interpolate":"monotone"},"encoding":{}},
  {"transform":[{"filter":"datum.k=='o'"}],"mark":{"type":"line","color":"black","strokeWidth":1,"strokeDash":[5,3],"clip":true},"encoding":{}},
  {"transform":[{"filter":"datum.k=='o'"}],"mark":{"type":"point","filled":true,"color":"black","opacity":1,"size":90,"clip":true},"encoding":{}}
 ]},
{"title":"Hake","width":410,"height":176,"transform":[{"filter":"datum.p=='HK'"}],
 "encoding":{"x":{"field":"t","type":"quantitative","title":null,"scale":{"domain":[1983,2035.2],"nice":false,"zero":false},"axis":{"values":[1990,2000,2010,2020,2030],"format":"d","labelExpr":"datum.value%20==10?datum.label:''"}},
  "y":{"field":"v","type":"quantitative","title":null,"scale":{"domain":[-78000,1590000],"nice":false,"zero":false},"axis":{"values":[0,500000,1000000,1500000],"format":"d","labelExpr":"indexof([0,1000000],datum.value)>=0?datum.label:''"}}},
 "layer":[
  {"transform":[{"filter":"datum.k=='b'"}],"mark":{"type":"area","color":"#D3D3D3","clip":true,"interpolate":"monotone"},"encoding":{"y2":{"field":"v2"}}},
  {"transform":[{"filter":"datum.k=='r'"}],"mark":{"type":"line","color":"#E87A1B","strokeWidth":3,"clip":true,"interpolate":"monotone"},"encoding":{}},
  {"transform":[{"filter":"datum.k=='g'"}],"mark":{"type":"line","color":"#8FD88F","strokeWidth":6,"clip":true,"interpolate":"monotone"},"encoding":{}},
  {"transform":[{"filter":"datum.k=='g'"}],"mark":{"type":"line","color":"#1E9E1E","strokeWidth":2.5,"clip":true,"interpolate":"monotone"},"encoding":{}},
  {"transform":[{"filter":"datum.k=='m'"}],"mark":{"type":"line","color":"black","strokeWidth":2.5,"clip":true,"interpolate":"monotone"},"encoding":{}},
  {"transform":[{"filter":"datum.k=='o'"}],"mark":{"type":"line","color":"black","strokeWidth":1,"clip":true},"encoding":{}},
  {"transform":[{"filter":"datum.k=='o'"}],"mark":{"type":"point","filled":true,"color":"black","opacity":1,"size":90,"clip":true},"encoding":{}}
 ]},
{"title":{"text":"Mackerel","dy":38.8},"width":410,"height":176,"transform":[{"filter":"datum.p=='MA'"}],
 "encoding":{"x":{"field":"t","type":"quantitative","title":null,"scale":{"domain":[1983,2035.2],"nice":false,"zero":false},"axis":{"values":[1990,2000,2010,2020,2030],"format":"d","labelExpr":"datum.value%20==10?datum.label:''"}},
  "y":{"field":"v","type":"quantitative","title":null,"scale":{"domain":[439000,2112000],"nice":false,"zero":false},"axis":{"values":[500000,1000000,1500000,2000000],"format":"d","labelExpr":"indexof([500000,2000000],datum.value)>=0?datum.label:''"}}},
 "layer":[
  {"transform":[{"filter":"datum.k=='b'"}],"mark":{"type":"area","color":"#D3D3D3","clip":true,"interpolate":"monotone"},"encoding":{"y2":{"field":"v2"}}},
  {"transform":[{"filter":"datum.k=='r'"}],"mark":{"type":"line","color":"#E3161B","strokeWidth":3,"clip":true,"interpolate":"monotone"},"encoding":{}},
  {"transform":[{"filter":"datum.k=='g'"}],"mark":{"type":"line","color":"#8FD88F","strokeWidth":6,"clip":true,"interpolate":"monotone"},"encoding":{}},
  {"transform":[{"filter":"datum.k=='g'"}],"mark":{"type":"line","color":"#1E9E1E","strokeWidth":2.5,"clip":true,"interpolate":"monotone"},"encoding":{}},
  {"transform":[{"filter":"datum.k=='m'"}],"mark":{"type":"line","color":"black","strokeWidth":2.5,"clip":true,"interpolate":"monotone"},"encoding":{}},
  {"transform":[{"filter":"datum.k=='o'"}],"mark":{"type":"line","color":"black","strokeWidth":1,"strokeDash":[5,3],"clip":true},"encoding":{}},
  {"transform":[{"filter":"datum.k=='o'"}],"mark":{"type":"point","filled":true,"color":"black","opacity":1,"size":90,"clip":true},"encoding":{}}
 ]},
{"title":"Horse mackerel","width":410,"height":176,"transform":[{"filter":"datum.p=='HM'"}],
 "encoding":{"x":{"field":"t","type":"quantitative","title":null,"scale":{"domain":[1983,2035.2],"nice":false,"zero":false},"axis":{"values":[1990,2000,2010,2020,2030],"format":"d","labelExpr":"datum.value%20==10?datum.label:''"}},
  "y":{"field":"v","type":"quantitative","title":null,"scale":{"domain":[-7000,730000],"nice":false,"zero":false},"axis":{"values":[0,100000,200000,300000,400000,500000,600000,700000],"format":"d","labelExpr":"datum.value==0?'0e+00':datum.value==500000?'5e+05':''"}}},
 "layer":[
  {"transform":[{"filter":"datum.k=='b'"}],"mark":{"type":"area","color":"#D3D3D3","clip":true,"interpolate":"monotone"},"encoding":{"y2":{"field":"v2"}}},
  {"transform":[{"filter":"datum.k=='r'"}],"mark":{"type":"line","color":"#E3161B","strokeWidth":3,"clip":true,"interpolate":"monotone"},"encoding":{}},
  {"transform":[{"filter":"datum.k=='g'"}],"mark":{"type":"line","color":"#8FD88F","strokeWidth":6,"clip":true,"interpolate":"monotone"},"encoding":{}},
  {"transform":[{"filter":"datum.k=='g'"}],"mark":{"type":"line","color":"#1E9E1E","strokeWidth":2.5,"clip":true,"interpolate":"monotone"},"encoding":{}},
  {"transform":[{"filter":"datum.k=='m'"}],"mark":{"type":"line","color":"black","strokeWidth":2.5,"clip":true,"interpolate":"monotone"},"encoding":{}},
  {"transform":[{"filter":"datum.k=='o'"}],"mark":{"type":"line","color":"black","strokeWidth":1,"strokeDash":[5,3],"clip":true},"encoding":{}},
  {"transform":[{"filter":"datum.k=='o'"}],"mark":{"type":"point","filled":true,"color":"black","opacity":1,"size":90,"clip":true},"encoding":{}}
 ]},
{"title":"Blue whiting","width":410,"height":176,"transform":[{"filter":"datum.p=='BW'"}],
 "encoding":{"x":{"field":"t","type":"quantitative","title":null,"scale":{"domain":[1983,2035.2],"nice":false,"zero":false},"axis":{"values":[1990,2000,2010,2020,2030],"format":"d","labelExpr":"datum.value%20==10?datum.label:''"}},
  "y":{"field":"v","type":"quantitative","title":null,"scale":{"domain":[97000,644000],"nice":false,"zero":false},"axis":{"values":[100000,200000,300000,400000,500000,600000],"format":"d","labelExpr":"datum.value==100000?'1e+05':datum.value==500000?'5e+05':''"}}},
 "layer":[
  {"transform":[{"filter":"datum.k=='b'"}],"mark":{"type":"area","color":"#D3D3D3","clip":true,"interpolate":"monotone"},"encoding":{"y2":{"field":"v2"}}},
  {"transform":[{"filter":"datum.k=='r'"}],"mark":{"type":"line","color":"#E3161B","strokeWidth":3,"clip":true,"interpolate":"monotone"},"encoding":{}},
  {"transform":[{"filter":"datum.k=='g'"}],"mark":{"type":"line","color":"#8FD88F","strokeWidth":6,"clip":true,"interpolate":"monotone"},"encoding":{}},
  {"transform":[{"filter":"datum.k=='g'"}],"mark":{"type":"line","color":"#1E9E1E","strokeWidth":2.5,"clip":true,"interpolate":"monotone"},"encoding":{}},
  {"transform":[{"filter":"datum.k=='m'"}],"mark":{"type":"line","color":"black","strokeWidth":2.5,"clip":true,"interpolate":"monotone"},"encoding":{}},
  {"transform":[{"filter":"datum.k=='o'"}],"mark":{"type":"line","color":"black","strokeWidth":1,"strokeDash":[5,3],"clip":true},"encoding":{}},
  {"transform":[{"filter":"datum.k=='o'"}],"mark":{"type":"point","filled":true,"color":"black","opacity":1,"size":90,"clip":true},"encoding":{}}
 ]},
{"title":"Herring","width":410,"height":176,"transform":[{"filter":"datum.p=='HE'"}],
 "encoding":{"x":{"field":"t","type":"quantitative","title":null,"scale":{"domain":[1983,2035.2],"nice":false,"zero":false},"axis":{"values":[1990,2000,2010,2020,2030],"format":"d","labelExpr":"datum.value%20==10?datum.label:''"}},
  "y":{"field":"v","type":"quantitative","title":null,"scale":{"domain":[-35000,896000],"nice":false,"zero":false},"axis":{"values":[0,200000,400000,600000,800000],"format":"d","labelExpr":"datum.value==0?'0e+00':datum.value==600000?'6e+05':''"}}},
 "layer":[
  {"transform":[{"filter":"datum.k=='b'"}],"mark":{"type":"area","color":"#D3D3D3","clip":true,"interpolate":"monotone"},"encoding":{"y2":{"field":"v2"}}},
  {"transform":[{"filter":"datum.k=='r'"}],"mark":{"type":"line","color":"#E3161B","strokeWidth":3,"clip":true,"interpolate":"monotone"},"encoding":{}},
  {"transform":[{"filter":"datum.k=='g'"}],"mark":{"type":"line","color":"#8FD88F","strokeWidth":6,"clip":true,"interpolate":"monotone"},"encoding":{}},
  {"transform":[{"filter":"datum.k=='g'"}],"mark":{"type":"line","color":"#1E9E1E","strokeWidth":2.5,"clip":true,"interpolate":"monotone"},"encoding":{}},
  {"transform":[{"filter":"datum.k=='m'"}],"mark":{"type":"line","color":"black","strokeWidth":2.5,"clip":true,"interpolate":"monotone"},"encoding":{}},
  {"transform":[{"filter":"datum.k=='o'"}],"mark":{"type":"line","color":"black","strokeWidth":1,"strokeDash":[5,3],"clip":true},"encoding":{}},
  {"transform":[{"filter":"datum.k=='o'"}],"mark":{"type":"point","filled":true,"color":"black","opacity":1,"size":90,"clip":true},"encoding":{}}
 ]},
{"title":{"text":"Norway pout","dy":32.1},"width":410,"height":176,"transform":[{"filter":"datum.p=='NP'"}],
 "encoding":{"x":{"field":"t","type":"quantitative","title":null,"scale":{"domain":[1983,2035.2],"nice":false,"zero":false},"axis":{"values":[1990,2000,2010,2020,2030],"format":"d","labelExpr":"datum.value%20==10?datum.label:''"}},
  "y":{"field":"v","type":"quantitative","title":null,"scale":{"domain":[9000,411000],"nice":false,"zero":false},"axis":{"values":[100000,200000,300000,400000],"format":"d","labelExpr":"datum.value==100000?'1e+05':datum.value==400000?'4e+05':''"}}},
 "layer":[
  {"transform":[{"filter":"datum.k=='b'"}],"mark":{"type":"area","color":"#D3D3D3","clip":true,"interpolate":"monotone"},"encoding":{"y2":{"field":"v2"}}},
  {"transform":[{"filter":"datum.k=='r'"}],"mark":{"type":"line","color":"#E3161B","strokeWidth":3,"clip":true,"interpolate":"monotone"},"encoding":{}},
  {"transform":[{"filter":"datum.k=='g'"}],"mark":{"type":"line","color":"#8FD88F","strokeWidth":6,"clip":true,"interpolate":"monotone"},"encoding":{}},
  {"transform":[{"filter":"datum.k=='g'"}],"mark":{"type":"line","color":"#1E9E1E","strokeWidth":2.5,"clip":true,"interpolate":"monotone"},"encoding":{}},
  {"transform":[{"filter":"datum.k=='m'"}],"mark":{"type":"line","color":"black","strokeWidth":2.5,"clip":true,"interpolate":"monotone"},"encoding":{}},
  {"transform":[{"filter":"datum.k=='o'"}],"mark":{"type":"line","color":"black","strokeWidth":1,"clip":true},"encoding":{}},
  {"transform":[{"filter":"datum.k=='o'"}],"mark":{"type":"point","filled":true,"color":"black","opacity":1,"size":90,"clip":true},"encoding":{}}
 ]},
{"title":"Nephrops","width":410,"height":176,"transform":[{"filter":"datum.p=='NE'"}],
 "encoding":{"x":{"field":"t","type":"quantitative","title":null,"scale":{"domain":[1983,2035.2],"nice":false,"zero":false},"axis":{"values":[1990,2000,2010,2020,2030],"format":"d","labelExpr":"datum.value%20==10?datum.label:''"}},
  "y":{"field":"v","type":"quantitative","title":null,"scale":{"domain":[11800,169000],"nice":false,"zero":false},"axis":{"values":[50000,100000,150000],"format":"d","labelExpr":"datum.value==50000?datum.label:''"}}},
 "layer":[
  {"transform":[{"filter":"datum.k=='b'"}],"mark":{"type":"area","color":"#D3D3D3","clip":true,"interpolate":"monotone"},"encoding":{"y2":{"field":"v2"}}},
  {"transform":[{"filter":"datum.k=='r'"}],"mark":{"type":"line","color":"#E3161B","strokeWidth":3,"clip":true,"interpolate":"monotone"},"encoding":{}},
  {"transform":[{"filter":"datum.k=='g'"}],"mark":{"type":"line","color":"#8FD88F","strokeWidth":6,"clip":true,"interpolate":"monotone"},"encoding":{}},
  {"transform":[{"filter":"datum.k=='g'"}],"mark":{"type":"line","color":"#1E9E1E","strokeWidth":2.5,"clip":true,"interpolate":"monotone"},"encoding":{}},
  {"transform":[{"filter":"datum.k=='m'"}],"mark":{"type":"line","color":"black","strokeWidth":2.5,"clip":true,"interpolate":"monotone"},"encoding":{}},
  {"transform":[{"filter":"datum.k=='o'"}],"mark":{"type":"line","color":"black","strokeWidth":1,"clip":true},"encoding":{}},
  {"transform":[{"filter":"datum.k=='o'"}],"mark":{"type":"point","filled":true,"color":"black","opacity":1,"size":90,"clip":true},"encoding":{}}
 ]}
]
}
